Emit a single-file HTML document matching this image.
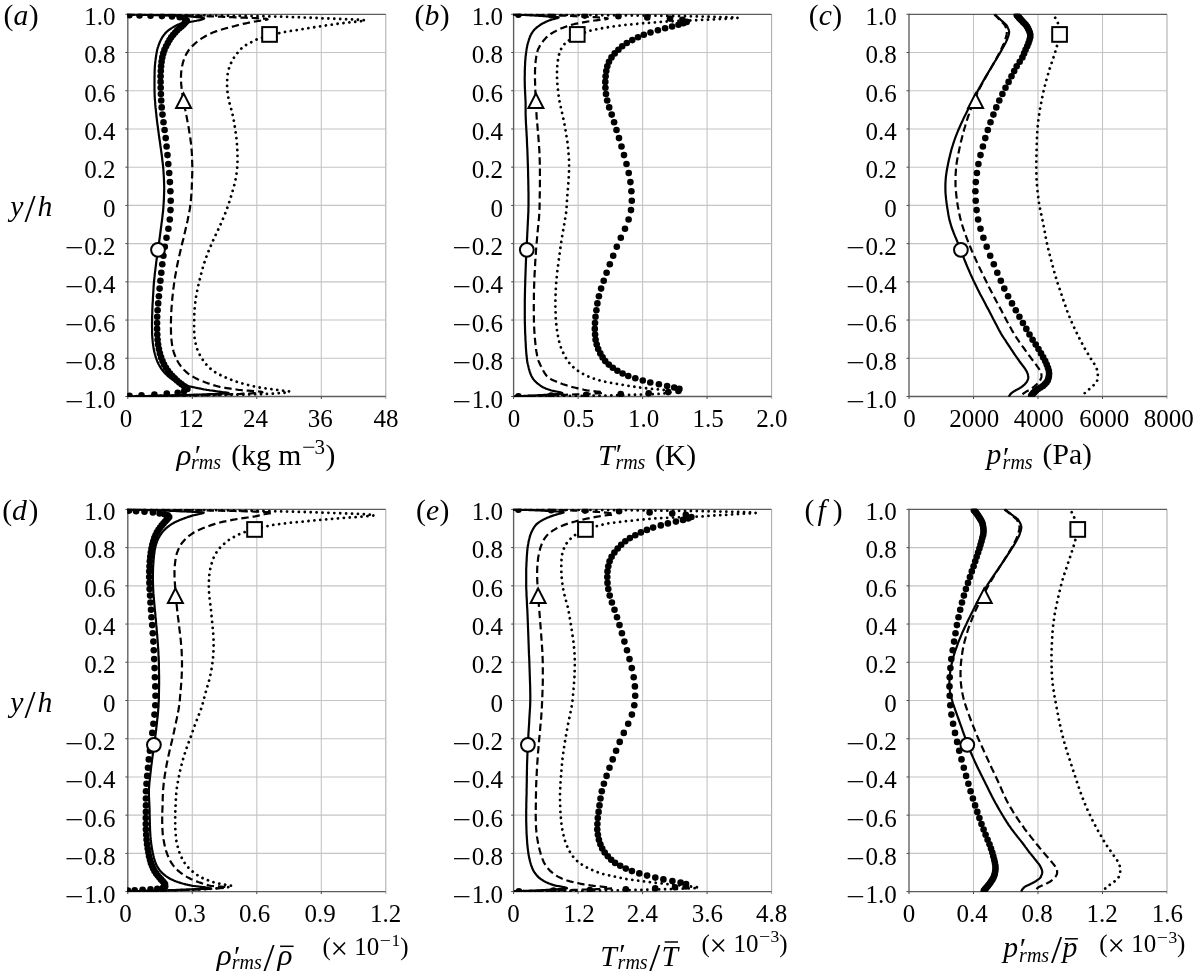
<!DOCTYPE html>
<html lang="en"><head><meta charset="utf-8"><title>Figure</title><style>
html,body{margin:0;padding:0;background:#fff;}
body{width:1194px;height:979px;overflow:hidden;font-family:"Liberation Serif","Times New Roman",serif;}
svg{display:block;font-family:"Liberation Serif","Times New Roman",serif;}
text{white-space:pre}
.gr{stroke:#c4c4c4;stroke-width:1.1;fill:none}
.gr2{stroke:#aeaeae;stroke-width:1.1;fill:none}
.tkm{stroke:#444;stroke-width:1;fill:none}
.ax{stroke:#5c5c5c;stroke-width:1.35;fill:none}
.solid{stroke:#000;stroke-width:2.2;fill:none;stroke-linejoin:round}
.dashed{stroke:#000;stroke-width:2.2;fill:none;stroke-dasharray:7.4 3.9;stroke-linejoin:round}
.dotted{stroke:#000;stroke-width:2.8;fill:none;stroke-dasharray:0.01 5.9;stroke-linecap:round;stroke-linejoin:round}
.bd{fill:#000}
.mk{fill:#fff;stroke:#000;stroke-width:2}
.bar{stroke:#000;stroke-width:1.5}
.tk{font-size:25px;fill:#000}
.lb{font-size:29.7px;fill:#000}
.ex{font-size:25px;fill:#000}
.it{font-style:italic}
.sl{font-size:40px;fill:#000}
.sub{font-size:20px;font-style:italic;fill:#000}
.sup{font-size:21px;fill:#000}
.tm{font-size:31px;fill:#000}
.sup2{font-size:17.5px;fill:#000}
</style></head><body>
<svg width="1194" height="979" viewBox="0 0 1194 979">
<defs>
<clipPath id="ca"><rect x="127.2" y="13.8" width="259.2" height="383.3"/></clipPath>
<clipPath id="cb"><rect x="513.0" y="13.8" width="259.2" height="383.3"/></clipPath>
<clipPath id="cc"><rect x="908.4" y="13.8" width="259.2" height="383.3"/></clipPath>
<clipPath id="cd"><rect x="127.2" y="508.8" width="259.2" height="383.3"/></clipPath>
<clipPath id="ce"><rect x="513.0" y="508.8" width="259.2" height="383.3"/></clipPath>
<clipPath id="cf"><rect x="908.4" y="508.8" width="259.2" height="383.3"/></clipPath>
</defs>
<g><line x1="192.30" y1="14.3" x2="192.30" y2="396.5" class="gr"/><line x1="256.80" y1="14.3" x2="256.80" y2="396.5" class="gr"/><line x1="321.30" y1="14.3" x2="321.30" y2="396.5" class="gr"/><line x1="385.80" y1="14.3" x2="385.80" y2="398.8" class="gr2"/><line x1="127.8" y1="52.52" x2="385.8" y2="52.52" class="gr"/><line x1="127.8" y1="90.74" x2="385.8" y2="90.74" class="gr"/><line x1="127.8" y1="128.96" x2="385.8" y2="128.96" class="gr"/><line x1="127.8" y1="167.18" x2="385.8" y2="167.18" class="gr"/><line x1="127.8" y1="205.40" x2="385.8" y2="205.40" class="gr"/><line x1="127.8" y1="243.62" x2="385.8" y2="243.62" class="gr"/><line x1="127.8" y1="281.84" x2="385.8" y2="281.84" class="gr"/><line x1="127.8" y1="320.06" x2="385.8" y2="320.06" class="gr"/><line x1="127.8" y1="358.28" x2="385.8" y2="358.28" class="gr"/><line x1="127.80" y1="396.5" x2="127.80" y2="399.0" class="tkm"/><line x1="192.30" y1="396.5" x2="192.30" y2="399.0" class="tkm"/><line x1="256.80" y1="396.5" x2="256.80" y2="399.0" class="tkm"/><line x1="321.30" y1="396.5" x2="321.30" y2="399.0" class="tkm"/><line x1="125.4" y1="14.30" x2="127.8" y2="14.30" class="tkm"/><line x1="125.4" y1="52.52" x2="127.8" y2="52.52" class="tkm"/><line x1="125.4" y1="90.74" x2="127.8" y2="90.74" class="tkm"/><line x1="125.4" y1="128.96" x2="127.8" y2="128.96" class="tkm"/><line x1="125.4" y1="167.18" x2="127.8" y2="167.18" class="tkm"/><line x1="125.4" y1="205.40" x2="127.8" y2="205.40" class="tkm"/><line x1="125.4" y1="243.62" x2="127.8" y2="243.62" class="tkm"/><line x1="125.4" y1="281.84" x2="127.8" y2="281.84" class="tkm"/><line x1="125.4" y1="320.06" x2="127.8" y2="320.06" class="tkm"/><line x1="125.4" y1="358.28" x2="127.8" y2="358.28" class="tkm"/><line x1="125.4" y1="396.50" x2="127.8" y2="396.50" class="tkm"/><line x1="127.80" y1="13.7" x2="127.80" y2="397.1" class="ax"/><line x1="127.8" y1="14.30" x2="385.8" y2="14.30" class="ax"/><line x1="127.8" y1="396.50" x2="385.8" y2="396.50" class="ax"/></g>
<g clip-path="url(#ca)"><path d="M127.5 14.5L127.8 14.5L131.4 14.5L135.1 14.6L139.0 14.6L142.9 14.7L147.0 14.7L151.2 14.8L155.5 14.8L159.9 14.9L164.4 15.0L169.1 15.0L174.0 15.1L178.9 15.1L184.0 15.2L189.3 15.3L194.6 15.3L200.2 15.4L206.1 15.5L212.5 15.6L219.2 15.6L226.1 15.7L233.3 15.8L240.4 15.9L247.4 16.0L254.1 16.1L260.2 16.2L265.4 16.3L269.9 16.4L274.1 16.5L278.2 16.6L282.1 16.7L285.9 16.8L289.6 16.9L293.2 17.1L296.7 17.2L300.0 17.3L303.3 17.5L306.6 17.6L309.9 17.7L313.2 17.9L316.6 18.0L320.2 18.2L324.0 18.4L328.2 18.5L332.8 18.7L337.7 18.9L342.8 19.1L347.9 19.3L352.8 19.5L357.3 19.7L361.1 19.9L363.9 20.1L365.3 20.3L365.2 20.5L364.2 20.8L362.6 21.0L360.4 21.3L357.7 21.5L354.7 21.8L351.6 22.1L348.6 22.4L346.0 22.7L343.6 23.0L341.3 23.3L338.9 23.6L336.4 23.9L334.0 24.3L331.5 24.6L329.0 25.0L326.4 25.4L323.8 25.8L321.2 26.2L318.5 26.6L315.9 27.0L313.2 27.4L310.4 27.9L307.6 28.3L304.6 28.8L301.6 29.3L298.4 29.8L294.9 30.3L291.3 30.9L287.8 31.4L284.4 32.0L281.5 32.6L278.7 33.2L276.0 33.8L273.3 34.5L270.6 35.1L268.0 35.8L265.5 36.5L263.1 37.2L260.8 37.9L258.6 38.7L256.6 39.5L254.8 40.3L253.2 41.1L251.6 42.0L250.0 42.8L248.3 43.7L246.7 44.6L245.2 45.6L243.8 46.6L242.5 47.5L241.3 48.6L240.2 49.6L239.3 50.7L238.4 51.8L237.5 52.9L236.5 54.1L235.6 55.3L234.7 56.5L233.8 57.8L233.1 59.1L232.3 60.4L231.6 61.7L231.0 63.1L230.4 64.5L229.8 66.0L229.3 67.5L228.8 69.0L228.4 70.6L228.0 72.1L227.7 73.8L227.5 75.4L227.3 77.1L227.2 78.9L227.2 80.6L227.1 82.5L227.1 84.3L227.1 86.2L227.2 88.1L227.4 90.1L227.5 92.1L227.8 94.1L228.1 96.2L228.5 98.3L228.9 100.5L229.4 102.7L230.0 104.9L230.6 107.2L231.3 109.5L231.9 111.8L232.5 114.2L233.0 116.6L233.5 119.1L234.0 121.6L234.4 124.1L234.8 126.7L235.2 129.3L235.6 131.9L235.9 134.6L236.3 137.2L236.6 140.0L236.8 142.7L237.1 145.5L237.2 148.3L237.4 151.2L237.5 154.0L237.5 156.9L237.5 159.8L237.5 162.8L237.4 165.7L237.1 168.7L236.8 171.7L236.4 174.7L235.9 177.7L235.3 180.8L234.6 183.8L233.8 186.9L232.9 189.9L232.1 193.0L231.1 196.1L230.2 199.2L229.2 202.3L228.2 205.4L227.1 208.5L225.9 211.6L224.7 214.7L223.4 217.8L222.1 220.9L220.8 223.9L219.4 227.0L218.0 230.0L216.5 233.1L215.1 236.1L213.7 239.1L212.4 242.1L211.1 245.1L209.8 248.0L208.6 251.0L207.4 253.9L206.4 256.8L205.3 259.6L204.4 262.5L203.5 265.3L202.7 268.1L201.9 270.8L201.2 273.6L200.5 276.2L199.9 278.9L199.2 281.5L198.6 284.1L198.1 286.7L197.5 289.2L197.0 291.7L196.5 294.2L196.1 296.6L195.8 299.0L195.4 301.3L195.2 303.6L194.9 305.9L194.7 308.1L194.6 310.3L194.4 312.5L194.3 314.6L194.3 316.7L194.2 318.7L194.2 320.7L194.1 322.7L194.1 324.6L194.1 326.5L194.2 328.3L194.2 330.2L194.2 331.9L194.3 333.7L194.4 335.4L194.5 337.0L194.7 338.7L195.0 340.2L195.3 341.8L195.6 343.3L195.9 344.8L196.2 346.3L196.7 347.7L197.2 349.1L197.7 350.4L198.3 351.7L198.9 353.0L199.5 354.3L200.1 355.5L200.8 356.7L201.5 357.9L202.2 359.0L202.9 360.1L203.7 361.2L204.5 362.2L205.3 363.3L206.1 364.2L206.9 365.2L207.8 366.2L208.7 367.1L209.6 368.0L210.6 368.8L211.6 369.7L212.6 370.5L213.7 371.3L214.9 372.1L216.2 372.9L217.5 373.6L218.9 374.3L220.3 375.0L221.7 375.7L223.1 376.3L224.6 377.0L226.0 377.6L227.4 378.2L228.9 378.8L230.3 379.4L231.7 379.9L233.2 380.5L234.6 381.0L236.1 381.5L237.6 382.0L239.1 382.5L240.6 382.9L242.1 383.4L243.6 383.8L245.2 384.2L246.7 384.6L248.2 385.0L249.8 385.4L251.4 385.8L252.9 386.2L254.5 386.5L256.0 386.9L257.8 387.2L259.7 387.5L261.8 387.8L263.9 388.1L266.0 388.4L268.1 388.7L270.2 389.0L272.1 389.3L273.9 389.5L275.8 389.8L278.0 390.0L280.2 390.3L282.3 390.5L284.3 390.7L286.0 390.9L287.5 391.1L288.6 391.3L289.3 391.5L289.6 391.7L289.5 391.9L289.0 392.1L288.1 392.3L287.0 392.4L285.6 392.6L284.1 392.8L282.3 392.9L280.5 393.1L278.5 393.2L276.5 393.3L274.3 393.5L272.2 393.6L270.0 393.7L267.8 393.9L265.6 394.0L263.3 394.1L260.2 394.2L256.6 394.3L252.5 394.4L248.1 394.5L243.4 394.6L238.5 394.7L233.5 394.8L228.4 394.9L223.3 395.0L218.3 395.1L213.4 395.2L208.5 395.2L203.9 395.3L199.3 395.4L194.8 395.5L190.2 395.5L185.5 395.6L180.7 395.7L176.0 395.7L171.3 395.8L166.5 395.8L161.9 395.9L157.2 396.0L152.6 396.0L148.1 396.1L143.7 396.1L139.3 396.2L135.1 396.2L131.2 396.3L128.0 396.3" class="dotted"/><path d="M127.5 14.5L127.7 14.5L130.5 14.5L133.4 14.6L136.4 14.6L139.4 14.7L142.5 14.7L145.7 14.8L148.9 14.8L152.2 14.9L155.4 15.0L158.8 15.0L162.1 15.1L165.5 15.1L168.9 15.2L172.3 15.3L175.6 15.3L179.0 15.4L182.2 15.5L185.4 15.6L188.5 15.6L191.5 15.7L194.5 15.8L197.5 15.9L200.5 16.0L203.5 16.1L206.5 16.2L209.4 16.3L212.4 16.4L215.3 16.5L218.2 16.6L221.1 16.7L224.0 16.8L226.8 16.9L229.7 17.1L232.5 17.2L235.4 17.3L238.5 17.5L241.8 17.6L245.2 17.7L248.7 17.9L252.2 18.0L255.6 18.2L258.8 18.4L261.7 18.5L264.2 18.7L266.2 18.9L267.3 19.1L267.6 19.3L267.3 19.5L266.6 19.7L265.6 19.9L264.4 20.1L262.9 20.3L261.2 20.5L259.5 20.8L257.7 21.0L256.1 21.3L254.7 21.5L253.3 21.8L251.9 22.1L250.4 22.4L248.9 22.7L247.4 23.0L245.9 23.3L244.4 23.6L242.9 23.9L241.5 24.3L240.0 24.6L238.5 25.0L237.1 25.4L235.6 25.8L234.1 26.2L232.5 26.6L230.9 27.0L229.3 27.4L227.6 27.9L226.0 28.3L224.3 28.8L222.6 29.3L221.0 29.8L219.3 30.3L217.6 30.9L215.9 31.4L214.3 32.0L212.8 32.6L211.3 33.2L210.0 33.8L208.6 34.5L207.4 35.1L206.1 35.8L204.9 36.5L203.7 37.2L202.5 37.9L201.3 38.7L200.1 39.5L199.0 40.3L197.9 41.1L196.8 42.0L195.8 42.8L194.8 43.7L193.8 44.6L192.8 45.6L191.9 46.6L191.0 47.5L190.1 48.6L189.2 49.6L188.4 50.7L187.7 51.8L187.0 52.9L186.3 54.1L185.7 55.3L185.1 56.5L184.6 57.8L184.1 59.1L183.6 60.4L183.2 61.7L182.8 63.1L182.5 64.5L182.1 66.0L181.9 67.5L181.6 69.0L181.4 70.6L181.2 72.1L181.1 73.8L181.0 75.4L181.0 77.1L181.0 78.9L181.0 80.6L181.1 82.5L181.2 84.3L181.4 86.2L181.6 88.1L181.8 90.1L182.1 92.1L182.4 94.1L182.7 96.2L183.1 98.3L183.5 100.5L183.9 102.7L184.3 104.9L184.8 107.2L185.2 109.5L185.7 111.8L186.1 114.2L186.6 116.6L187.1 119.1L187.5 121.6L188.0 124.1L188.5 126.7L188.9 129.3L189.3 131.9L189.8 134.6L190.2 137.2L190.5 140.0L190.9 142.7L191.2 145.5L191.5 148.3L191.7 151.2L191.9 154.0L192.0 156.9L192.1 159.8L192.2 162.8L192.3 165.7L192.3 168.7L192.3 171.7L192.2 174.7L192.1 177.7L192.1 180.8L191.9 183.8L191.8 186.9L191.7 189.9L191.5 193.0L191.2 196.1L191.0 199.2L190.7 202.3L190.3 205.4L189.9 208.5L189.3 211.6L188.8 214.7L188.1 217.8L187.5 220.9L186.8 223.9L186.1 227.0L185.4 230.0L184.7 233.1L184.0 236.1L183.3 239.1L182.5 242.1L181.8 245.1L181.1 248.0L180.4 251.0L179.7 253.9L179.0 256.8L178.4 259.6L177.8 262.5L177.2 265.3L176.7 268.1L176.2 270.8L175.7 273.6L175.2 276.2L174.8 278.9L174.4 281.5L174.0 284.1L173.7 286.7L173.3 289.2L173.0 291.7L172.8 294.2L172.5 296.6L172.3 299.0L172.0 301.3L171.8 303.6L171.7 305.9L171.5 308.1L171.4 310.3L171.2 312.5L171.1 314.6L171.1 316.7L171.0 318.7L171.0 320.7L170.9 322.7L170.9 324.6L170.9 326.5L170.9 328.3L171.0 330.2L171.0 331.9L171.0 333.7L171.1 335.4L171.2 337.0L171.3 338.7L171.5 340.2L171.7 341.8L171.9 343.3L172.1 344.8L172.3 346.3L172.6 347.7L172.9 349.1L173.3 350.4L173.6 351.7L174.0 353.0L174.5 354.3L174.9 355.5L175.4 356.7L175.9 357.9L176.4 359.0L177.0 360.1L177.6 361.2L178.2 362.2L178.8 363.3L179.4 364.2L180.1 365.2L180.8 366.2L181.5 367.1L182.3 368.0L183.0 368.8L183.8 369.7L184.7 370.5L185.5 371.3L186.4 372.1L187.3 372.9L188.2 373.6L189.2 374.3L190.3 375.0L191.3 375.7L192.4 376.3L193.5 377.0L194.6 377.6L195.7 378.2L196.9 378.8L198.1 379.4L199.3 379.9L200.6 380.5L201.9 381.0L203.2 381.5L204.4 382.0L205.7 382.5L207.0 382.9L208.2 383.4L209.4 383.8L210.6 384.2L211.8 384.6L213.0 385.0L214.3 385.4L215.6 385.8L217.0 386.2L218.4 386.5L219.8 386.9L221.4 387.2L223.1 387.5L224.9 387.8L226.7 388.1L228.6 388.4L230.6 388.7L232.5 389.0L234.5 389.3L236.5 389.5L238.4 389.8L240.4 390.0L242.8 390.3L245.5 390.5L248.4 390.7L251.3 390.9L254.0 391.1L256.5 391.3L258.7 391.5L260.4 391.7L261.6 391.9L262.3 392.1L262.4 392.3L262.0 392.4L261.1 392.6L259.8 392.8L258.1 392.9L256.1 393.1L253.9 393.2L251.5 393.3L248.9 393.5L246.2 393.6L243.4 393.7L240.5 393.9L237.6 394.0L234.6 394.1L231.7 394.2L228.7 394.3L225.7 394.4L222.8 394.5L219.9 394.6L217.0 394.7L214.2 394.8L211.5 394.9L208.7 395.0L205.5 395.1L202.0 395.2L198.3 395.2L194.4 395.3L190.4 395.4L186.2 395.5L182.0 395.5L177.8 395.6L173.5 395.7L169.2 395.7L165.0 395.8L160.8 395.8L156.7 395.9L152.6 396.0L148.7 396.0L144.8 396.1L141.0 396.1L137.3 396.2L133.8 396.2L130.6 396.3L127.9 396.3" class="dashed"/><path d="M127.5 14.5L127.7 14.5L129.9 14.5L132.1 14.6L134.4 14.6L136.8 14.7L139.1 14.7L141.5 14.8L143.9 14.8L146.4 14.9L148.8 15.0L151.3 15.0L153.7 15.1L156.2 15.1L158.6 15.2L161.0 15.3L163.3 15.3L165.6 15.4L168.0 15.5L170.3 15.6L172.7 15.6L175.1 15.7L177.4 15.8L179.7 15.9L181.9 16.0L184.0 16.1L185.8 16.2L187.4 16.3L188.7 16.4L190.1 16.5L191.4 16.6L192.8 16.7L194.1 16.8L195.4 16.9L196.7 17.1L198.0 17.2L199.2 17.3L200.3 17.5L201.4 17.6L202.3 17.7L203.1 17.9L203.6 18.0L204.0 18.2L204.1 18.4L204.1 18.5L203.9 18.7L203.6 18.9L203.2 19.1L202.7 19.3L202.1 19.5L201.3 19.7L200.5 19.9L199.6 20.1L198.5 20.3L197.4 20.5L196.2 20.8L194.9 21.0L193.6 21.3L192.2 21.5L190.9 21.8L189.5 22.1L187.8 22.4L185.9 22.7L183.9 23.0L182.2 23.3L180.9 23.6L179.8 23.9L178.9 24.3L178.0 24.6L177.1 25.0L176.3 25.4L175.6 25.8L174.8 26.2L174.1 26.6L173.5 27.0L172.8 27.4L172.0 27.9L171.3 28.3L170.6 28.8L169.9 29.3L169.1 29.8L168.4 30.3L167.8 30.9L167.1 31.4L166.5 32.0L165.9 32.6L165.3 33.2L164.8 33.8L164.3 34.5L163.8 35.1L163.3 35.8L162.8 36.5L162.3 37.2L161.9 37.9L161.5 38.7L161.1 39.5L160.7 40.3L160.3 41.1L159.9 42.0L159.6 42.8L159.2 43.7L158.8 44.6L158.5 45.6L158.2 46.6L157.8 47.5L157.5 48.6L157.2 49.6L157.0 50.7L156.8 51.8L156.6 52.9L156.4 54.1L156.2 55.3L156.0 56.5L155.8 57.8L155.6 59.1L155.5 60.4L155.3 61.7L155.2 63.1L155.0 64.5L154.9 66.0L154.8 67.5L154.7 69.0L154.7 70.6L154.6 72.1L154.6 73.8L154.6 75.4L154.5 77.1L154.5 78.9L154.5 80.6L154.5 82.5L154.5 84.3L154.5 86.2L154.5 88.1L154.5 90.1L154.6 92.1L154.6 94.1L154.7 96.2L154.8 98.3L155.0 100.5L155.2 102.7L155.3 104.9L155.5 107.2L155.8 109.5L156.0 111.8L156.3 114.2L156.5 116.6L156.8 119.1L157.1 121.6L157.4 124.1L157.8 126.7L158.1 129.3L158.5 131.9L158.8 134.6L159.2 137.2L159.6 140.0L160.0 142.7L160.4 145.5L160.8 148.3L161.2 151.2L161.6 154.0L162.0 156.9L162.3 159.8L162.7 162.8L163.0 165.7L163.3 168.7L163.5 171.7L163.7 174.7L163.9 177.7L164.0 180.8L164.1 183.8L164.2 186.9L164.2 189.9L164.1 193.0L164.0 196.1L163.9 199.2L163.7 202.3L163.5 205.4L163.3 208.5L163.0 211.6L162.6 214.7L162.3 217.8L161.9 220.9L161.5 223.9L161.1 227.0L160.7 230.0L160.3 233.1L159.9 236.1L159.5 239.1L159.1 242.1L158.7 245.1L158.3 248.0L157.8 251.0L157.4 253.9L157.0 256.8L156.6 259.6L156.2 262.5L155.9 265.3L155.5 268.1L155.2 270.8L154.8 273.6L154.6 276.2L154.3 278.9L154.0 281.5L153.8 284.1L153.6 286.7L153.5 289.2L153.3 291.7L153.2 294.2L153.0 296.6L152.9 299.0L152.8 301.3L152.6 303.6L152.5 305.9L152.4 308.1L152.3 310.3L152.3 312.5L152.2 314.6L152.1 316.7L152.1 318.7L152.1 320.7L152.0 322.7L152.0 324.6L152.0 326.5L152.1 328.3L152.1 330.2L152.1 331.9L152.1 333.7L152.2 335.4L152.3 337.0L152.4 338.7L152.6 340.2L152.7 341.8L152.9 343.3L153.1 344.8L153.3 346.3L153.5 347.7L153.7 349.1L154.0 350.4L154.3 351.7L154.6 353.0L154.9 354.3L155.3 355.5L155.6 356.7L156.0 357.9L156.4 359.0L156.8 360.1L157.2 361.2L157.7 362.2L158.1 363.3L158.6 364.2L159.2 365.2L159.7 366.2L160.3 367.1L160.8 368.0L161.4 368.8L162.0 369.7L162.6 370.5L163.3 371.3L164.0 372.1L164.6 372.9L165.4 373.6L166.1 374.3L166.8 375.0L167.5 375.7L168.2 376.3L169.0 377.0L169.7 377.6L170.5 378.2L171.3 378.8L172.1 379.4L172.9 379.9L173.8 380.5L174.7 381.0L175.6 381.5L176.7 382.0L177.8 382.5L178.9 382.9L180.1 383.4L181.2 383.8L182.4 384.2L183.7 384.6L185.0 385.0L186.4 385.4L187.8 385.8L189.2 386.2L190.5 386.5L191.9 386.9L193.3 387.2L194.7 387.5L196.2 387.8L197.6 388.1L199.1 388.4L200.6 388.7L202.1 389.0L203.7 389.3L205.2 389.5L206.8 389.8L208.3 390.0L209.8 390.3L211.2 390.5L212.6 390.7L214.0 390.9L215.4 391.1L216.8 391.3L218.1 391.5L219.4 391.7L220.7 391.9L222.0 392.1L223.5 392.3L225.2 392.4L226.7 392.6L227.9 392.8L228.5 392.9L228.4 393.1L227.6 393.2L226.3 393.3L224.6 393.5L222.5 393.6L220.1 393.7L217.5 393.9L214.7 394.0L211.9 394.1L209.0 394.2L206.1 394.3L203.2 394.4L200.4 394.5L197.6 394.6L194.9 394.7L192.3 394.8L189.8 394.9L187.3 395.0L184.6 395.1L181.9 395.2L179.1 395.2L176.3 395.3L173.4 395.4L170.5 395.5L167.7 395.5L164.8 395.6L161.9 395.7L159.1 395.7L156.3 395.8L153.5 395.8L150.8 395.9L148.1 396.0L145.5 396.0L142.9 396.1L140.3 396.1L137.9 396.2L135.4 396.2L133.1 396.3L130.8 396.3L129.4 396.3L128.7 396.4" class="solid"/><g class="bd"><circle cx="187.4" cy="388.9" r="3.3"/><circle cx="185.8" cy="387.5" r="3.3"/><circle cx="183.9" cy="386.0" r="3.3"/><circle cx="181.6" cy="384.3" r="3.3"/><circle cx="179.3" cy="382.5" r="3.3"/><circle cx="176.9" cy="380.5" r="3.3"/><circle cx="174.7" cy="378.3" r="3.3"/><circle cx="172.4" cy="376.0" r="3.3"/><circle cx="170.1" cy="373.5" r="3.3"/><circle cx="167.9" cy="370.7" r="3.3"/><circle cx="165.9" cy="367.8" r="3.3"/><circle cx="164.1" cy="364.6" r="3.3"/><circle cx="162.5" cy="361.1" r="3.3"/><circle cx="161.1" cy="357.4" r="3.3"/><circle cx="159.9" cy="353.4" r="3.3"/><circle cx="158.9" cy="349.1" r="3.3"/><circle cx="158.1" cy="344.6" r="3.3"/><circle cx="157.6" cy="339.7" r="3.3"/><circle cx="157.3" cy="334.5" r="3.3"/><circle cx="157.1" cy="328.9" r="3.3"/><circle cx="157.1" cy="323.0" r="3.3"/><circle cx="157.2" cy="316.8" r="3.3"/><circle cx="157.6" cy="310.3" r="3.3"/><circle cx="158.2" cy="303.4" r="3.3"/><circle cx="158.9" cy="296.2" r="3.3"/><circle cx="159.6" cy="288.6" r="3.3"/><circle cx="160.4" cy="280.8" r="3.3"/><circle cx="161.3" cy="272.7" r="3.3"/><circle cx="162.3" cy="264.3" r="3.3"/><circle cx="163.4" cy="255.7" r="3.3"/><circle cx="164.8" cy="246.8" r="3.3"/><circle cx="166.5" cy="237.8" r="3.3"/><circle cx="168.4" cy="228.7" r="3.3"/><circle cx="169.8" cy="219.5" r="3.3"/><circle cx="170.5" cy="210.1" r="3.3"/><circle cx="170.7" cy="200.7" r="3.3"/><circle cx="170.4" cy="191.3" r="3.3"/><circle cx="169.9" cy="182.1" r="3.3"/><circle cx="169.2" cy="173.0" r="3.3"/><circle cx="168.3" cy="164.0" r="3.3"/><circle cx="167.5" cy="155.1" r="3.3"/><circle cx="166.6" cy="146.5" r="3.3"/><circle cx="165.7" cy="138.1" r="3.3"/><circle cx="164.6" cy="130.0" r="3.3"/><circle cx="163.5" cy="122.2" r="3.3"/><circle cx="162.5" cy="114.6" r="3.3"/><circle cx="161.7" cy="107.4" r="3.3"/><circle cx="161.2" cy="100.5" r="3.3"/><circle cx="160.9" cy="94.0" r="3.3"/><circle cx="160.7" cy="87.8" r="3.3"/><circle cx="160.6" cy="81.9" r="3.3"/><circle cx="160.6" cy="76.3" r="3.3"/><circle cx="160.8" cy="71.1" r="3.3"/><circle cx="161.1" cy="66.2" r="3.3"/><circle cx="161.6" cy="61.7" r="3.3"/><circle cx="162.3" cy="57.4" r="3.3"/><circle cx="163.3" cy="53.4" r="3.3"/><circle cx="164.5" cy="49.7" r="3.3"/><circle cx="166.1" cy="46.2" r="3.3"/><circle cx="167.8" cy="43.0" r="3.3"/><circle cx="169.5" cy="40.1" r="3.3"/><circle cx="171.2" cy="37.3" r="3.3"/><circle cx="173.2" cy="34.8" r="3.3"/><circle cx="175.2" cy="32.5" r="3.3"/><circle cx="177.2" cy="30.3" r="3.3"/><circle cx="179.4" cy="28.3" r="3.3"/><circle cx="181.5" cy="26.5" r="3.3"/><circle cx="183.3" cy="24.8" r="3.3"/><circle cx="184.6" cy="23.3" r="3.3"/><circle cx="185.7" cy="21.9" r="3.3"/><circle cx="186.7" cy="20.6" r="3.3"/><circle cx="177.7" cy="392.7" r="3.3"/><circle cx="166.8" cy="393.6" r="3.3"/><circle cx="154.4" cy="394.5" r="3.3"/><circle cx="141.5" cy="395.2" r="3.3"/><circle cx="129.5" cy="395.8" r="3.3"/><circle cx="184.0" cy="391.5" r="3.3"/><circle cx="129.4" cy="15.2" r="3.3"/><circle cx="139.5" cy="15.5" r="3.3"/><circle cx="150.5" cy="15.8" r="3.3"/><circle cx="161.9" cy="16.1" r="3.3"/><circle cx="172.0" cy="16.5" r="3.3"/><circle cx="179.7" cy="17.2" r="3.3"/><circle cx="184.6" cy="18.3" r="3.3"/></g></g>
<g><circle cx="158.0" cy="249.8" r="6.9" class="mk"/><path d="M183.6 93.4 L191.1 108.0 L176.1 108.0 Z" class="mk"/><rect x="262.2" y="27.1" width="14.7" height="14.7" class="mk"/></g>
<g><text x="115.5" y="24.9" text-anchor="end" class="tk">1.0</text><text x="115.5" y="63.2" text-anchor="end" class="tk">0.8</text><text x="115.5" y="101.5" text-anchor="end" class="tk">0.6</text><text x="115.5" y="139.9" text-anchor="end" class="tk">0.4</text><text x="115.5" y="178.2" text-anchor="end" class="tk">0.2</text><text x="115.5" y="216.5" text-anchor="end" class="tk">0</text><text x="115.5" y="254.8" text-anchor="end" class="tk">0.2</text><text x="64.8" y="256.4" class="tk" textLength="18.8" lengthAdjust="spacingAndGlyphs">−</text><text x="115.5" y="293.1" text-anchor="end" class="tk">0.4</text><text x="64.8" y="294.7" class="tk" textLength="18.8" lengthAdjust="spacingAndGlyphs">−</text><text x="115.5" y="331.5" text-anchor="end" class="tk">0.6</text><text x="64.8" y="333.1" class="tk" textLength="18.8" lengthAdjust="spacingAndGlyphs">−</text><text x="115.5" y="369.8" text-anchor="end" class="tk">0.8</text><text x="64.8" y="371.4" class="tk" textLength="18.8" lengthAdjust="spacingAndGlyphs">−</text><text x="115.5" y="408.1" text-anchor="end" class="tk">1.0</text><text x="64.8" y="409.7" class="tk" textLength="18.8" lengthAdjust="spacingAndGlyphs">−</text><text x="126.0" y="426.9" text-anchor="middle" class="tk">0</text><text x="191.1" y="426.9" text-anchor="middle" class="tk">12</text><text x="255.5" y="426.9" text-anchor="middle" class="tk">24</text><text x="320.2" y="426.9" text-anchor="middle" class="tk">36</text><text x="386.1" y="426.9" text-anchor="middle" class="tk">48</text></g>
<text x="3.6" y="24.7" class="lb">(<tspan class="it">a</tspan><tspan dx="0.4">)</tspan></text>
<g><text transform="translate(176.6 464.9) scale(1.050 1)" class="lb it">ρ</text><text x="194.8" y="465.1" class="lb">′</text><text x="191.0" y="469.3" class="sub">rms</text><text x="231.3" y="464.9" class="lb">(kg m</text><text x="302.0" y="454.4" class="sup" textLength="13.5" lengthAdjust="spacingAndGlyphs">−</text><text x="314.6" y="454.4" class="sup">3</text><text x="325.6" y="464.9" class="lb">)</text></g>
<g><line x1="578.10" y1="14.3" x2="578.10" y2="396.5" class="gr"/><line x1="642.60" y1="14.3" x2="642.60" y2="396.5" class="gr"/><line x1="707.10" y1="14.3" x2="707.10" y2="396.5" class="gr"/><line x1="771.60" y1="14.3" x2="771.60" y2="398.8" class="gr2"/><line x1="513.6" y1="52.52" x2="771.6" y2="52.52" class="gr"/><line x1="513.6" y1="90.74" x2="771.6" y2="90.74" class="gr"/><line x1="513.6" y1="128.96" x2="771.6" y2="128.96" class="gr"/><line x1="513.6" y1="167.18" x2="771.6" y2="167.18" class="gr"/><line x1="513.6" y1="205.40" x2="771.6" y2="205.40" class="gr"/><line x1="513.6" y1="243.62" x2="771.6" y2="243.62" class="gr"/><line x1="513.6" y1="281.84" x2="771.6" y2="281.84" class="gr"/><line x1="513.6" y1="320.06" x2="771.6" y2="320.06" class="gr"/><line x1="513.6" y1="358.28" x2="771.6" y2="358.28" class="gr"/><line x1="513.60" y1="396.5" x2="513.60" y2="399.0" class="tkm"/><line x1="578.10" y1="396.5" x2="578.10" y2="399.0" class="tkm"/><line x1="642.60" y1="396.5" x2="642.60" y2="399.0" class="tkm"/><line x1="707.10" y1="396.5" x2="707.10" y2="399.0" class="tkm"/><line x1="511.2" y1="14.30" x2="513.6" y2="14.30" class="tkm"/><line x1="511.2" y1="52.52" x2="513.6" y2="52.52" class="tkm"/><line x1="511.2" y1="90.74" x2="513.6" y2="90.74" class="tkm"/><line x1="511.2" y1="128.96" x2="513.6" y2="128.96" class="tkm"/><line x1="511.2" y1="167.18" x2="513.6" y2="167.18" class="tkm"/><line x1="511.2" y1="205.40" x2="513.6" y2="205.40" class="tkm"/><line x1="511.2" y1="243.62" x2="513.6" y2="243.62" class="tkm"/><line x1="511.2" y1="281.84" x2="513.6" y2="281.84" class="tkm"/><line x1="511.2" y1="320.06" x2="513.6" y2="320.06" class="tkm"/><line x1="511.2" y1="358.28" x2="513.6" y2="358.28" class="tkm"/><line x1="511.2" y1="396.50" x2="513.6" y2="396.50" class="tkm"/><line x1="513.60" y1="13.7" x2="513.60" y2="397.1" class="ax"/><line x1="513.6" y1="14.30" x2="771.6" y2="14.30" class="ax"/><line x1="513.6" y1="396.50" x2="771.6" y2="396.50" class="ax"/></g>
<g clip-path="url(#cb)"><path d="M513.6 14.5L514.2 14.5L520.0 14.5L526.1 14.6L532.2 14.6L538.5 14.7L544.8 14.7L551.4 14.8L558.0 14.8L564.7 14.9L571.6 15.0L578.5 15.0L585.5 15.1L592.6 15.1L599.9 15.2L607.4 15.3L615.2 15.3L623.2 15.4L631.2 15.5L639.2 15.6L646.9 15.6L654.3 15.7L661.1 15.8L667.2 15.9L672.9 16.0L678.5 16.1L683.9 16.2L689.1 16.3L694.1 16.4L698.8 16.5L703.3 16.6L707.5 16.7L711.5 16.8L715.6 16.9L719.9 17.1L724.2 17.2L728.2 17.3L731.8 17.5L734.9 17.6L736.9 17.7L737.8 17.9L737.3 18.0L735.9 18.2L733.6 18.4L730.6 18.5L726.9 18.7L722.8 18.9L718.5 19.1L714.2 19.3L710.3 19.5L706.8 19.7L703.4 19.9L699.7 20.1L695.3 20.3L690.0 20.5L683.9 20.8L677.7 21.0L671.8 21.3L666.9 21.5L662.7 21.8L658.6 22.1L654.5 22.4L650.2 22.7L646.1 23.0L642.4 23.3L639.0 23.6L635.8 23.9L632.3 24.3L628.5 24.6L624.5 25.0L620.9 25.4L617.8 25.8L614.8 26.2L612.1 26.6L609.4 27.0L606.9 27.4L604.3 27.9L601.7 28.3L599.1 28.8L596.6 29.3L594.2 29.8L591.9 30.3L589.7 30.9L587.8 31.4L586.1 32.0L584.5 32.6L582.9 33.2L581.3 33.8L579.8 34.5L578.3 35.1L576.8 35.8L575.4 36.5L574.0 37.2L572.7 37.9L571.4 38.7L570.2 39.5L569.0 40.3L567.9 41.1L566.8 42.0L565.8 42.8L564.8 43.7L564.0 44.6L563.2 45.6L562.5 46.6L561.9 47.5L561.3 48.6L560.8 49.6L560.3 50.7L559.9 51.8L559.5 52.9L559.2 54.1L558.8 55.3L558.6 56.5L558.3 57.8L558.1 59.1L557.9 60.4L557.7 61.7L557.5 63.1L557.4 64.5L557.3 66.0L557.2 67.5L557.1 69.0L557.1 70.6L557.0 72.1L557.0 73.8L557.0 75.4L557.0 77.1L557.1 78.9L557.2 80.6L557.3 82.5L557.4 84.3L557.6 86.2L557.8 88.1L558.0 90.1L558.2 92.1L558.4 94.1L558.7 96.2L559.0 98.3L559.4 100.5L559.8 102.7L560.3 104.9L560.8 107.2L561.3 109.5L561.8 111.8L562.4 114.2L562.9 116.6L563.4 119.1L563.9 121.6L564.4 124.1L564.9 126.7L565.3 129.3L565.8 131.9L566.2 134.6L566.7 137.2L567.1 140.0L567.5 142.7L567.8 145.5L568.1 148.3L568.4 151.2L568.6 154.0L568.8 156.9L569.0 159.8L569.1 162.8L569.1 165.7L569.1 168.7L569.0 171.7L568.9 174.7L568.7 177.7L568.5 180.8L568.3 183.8L568.1 186.9L567.8 189.9L567.5 193.0L567.3 196.1L567.1 199.2L566.9 202.3L566.7 205.4L566.5 208.5L566.2 211.6L565.8 214.7L565.3 217.8L564.8 220.9L564.3 223.9L563.7 227.0L563.2 230.0L562.7 233.1L562.2 236.1L561.7 239.1L561.2 242.1L560.8 245.1L560.4 248.0L560.0 251.0L559.6 253.9L559.2 256.8L558.8 259.6L558.5 262.5L558.1 265.3L557.8 268.1L557.4 270.8L557.1 273.6L556.8 276.2L556.6 278.9L556.3 281.5L556.1 284.1L555.9 286.7L555.8 289.2L555.7 291.7L555.6 294.2L555.5 296.6L555.4 299.0L555.4 301.3L555.4 303.6L555.4 305.9L555.4 308.1L555.5 310.3L555.6 312.5L555.6 314.6L555.7 316.7L555.8 318.7L556.0 320.7L556.1 322.7L556.3 324.6L556.5 326.5L556.7 328.3L557.0 330.2L557.2 331.9L557.5 333.7L557.8 335.4L558.2 337.0L558.5 338.7L558.8 340.2L559.2 341.8L559.6 343.3L560.1 344.8L560.5 346.3L561.0 347.7L561.6 349.1L562.1 350.4L562.7 351.7L563.3 353.0L563.9 354.3L564.5 355.5L565.2 356.7L565.8 357.9L566.5 359.0L567.2 360.1L567.9 361.2L568.7 362.2L569.6 363.3L570.5 364.2L571.4 365.2L572.3 366.2L573.3 367.1L574.3 368.0L575.3 368.8L576.4 369.7L577.6 370.5L578.7 371.3L580.0 372.1L581.2 372.9L582.5 373.6L583.9 374.3L585.2 375.0L586.6 375.7L588.0 376.3L589.5 377.0L591.0 377.6L592.6 378.2L594.4 378.8L596.2 379.4L598.1 379.9L600.1 380.5L602.1 381.0L604.2 381.5L606.3 382.0L608.8 382.5L611.4 382.9L614.2 383.4L616.7 383.8L619.1 384.2L621.5 384.6L623.7 385.0L626.0 385.4L628.3 385.8L630.7 386.2L633.0 386.5L635.3 386.9L637.7 387.2L640.1 387.5L642.4 387.8L644.8 388.1L647.3 388.4L649.8 388.7L652.5 389.0L655.6 389.3L658.7 389.5L661.6 389.8L663.9 390.0L665.8 390.3L667.7 390.5L669.4 390.7L670.8 390.9L671.9 391.1L672.5 391.3L672.7 391.5L672.6 391.7L672.2 391.9L671.8 392.1L671.2 392.3L670.4 392.4L669.6 392.6L668.7 392.8L667.7 392.9L666.7 393.1L665.6 393.2L664.5 393.3L663.3 393.5L662.1 393.6L660.9 393.7L659.5 393.9L657.4 394.0L654.8 394.1L651.8 394.2L648.7 394.3L645.6 394.4L642.5 394.5L639.4 394.6L636.0 394.7L632.6 394.8L629.3 394.9L626.2 395.0L623.4 395.1L620.9 395.2L618.5 395.2L616.1 395.3L613.4 395.4L610.3 395.5L606.7 395.5L602.4 395.6L597.1 395.7L591.4 395.7L585.2 395.8L578.7 395.8L572.2 395.9L565.5 396.0L558.8 396.0L551.6 396.1L544.3 396.1L536.4 396.2L528.6 396.2L521.0 396.3L514.7 396.3" class="dotted"/><path d="M513.6 14.5L513.8 14.5L516.1 14.5L518.4 14.6L520.9 14.6L523.4 14.7L526.0 14.7L528.6 14.8L531.3 14.8L534.1 14.9L536.9 15.0L539.7 15.0L542.5 15.1L545.3 15.1L548.2 15.2L550.9 15.3L553.6 15.3L556.2 15.4L558.7 15.5L560.9 15.6L562.9 15.6L564.9 15.7L567.0 15.8L569.0 15.9L571.2 16.0L573.3 16.1L575.5 16.2L577.7 16.3L580.0 16.4L582.2 16.5L584.5 16.6L586.8 16.7L589.0 16.8L591.3 16.9L593.4 17.1L595.6 17.2L597.6 17.3L599.6 17.5L601.4 17.6L603.1 17.7L604.5 17.9L605.8 18.0L606.8 18.2L607.4 18.4L607.7 18.5L607.6 18.7L607.1 18.9L606.1 19.1L604.8 19.3L603.2 19.5L601.4 19.7L599.6 19.9L597.8 20.1L596.2 20.3L594.6 20.5L592.9 20.8L591.2 21.0L589.5 21.3L587.8 21.5L586.1 21.8L584.5 22.1L582.9 22.4L581.2 22.7L579.6 23.0L578.0 23.3L576.5 23.6L575.0 23.9L573.6 24.3L572.3 24.6L571.0 25.0L569.7 25.4L568.5 25.8L567.3 26.2L566.1 26.6L564.9 27.0L563.8 27.4L562.6 27.9L561.5 28.3L560.4 28.8L559.2 29.3L558.1 29.8L557.1 30.3L556.0 30.9L555.0 31.4L553.9 32.0L552.9 32.6L551.9 33.2L550.9 33.8L550.0 34.5L549.2 35.1L548.3 35.8L547.5 36.5L546.7 37.2L545.9 37.9L545.2 38.7L544.5 39.5L543.8 40.3L543.1 41.1L542.4 42.0L541.7 42.8L541.1 43.7L540.5 44.6L540.0 45.6L539.5 46.6L539.0 47.5L538.5 48.6L538.0 49.6L537.6 50.7L537.3 51.8L537.0 52.9L536.7 54.1L536.5 55.3L536.3 56.5L536.1 57.8L535.9 59.1L535.7 60.4L535.6 61.7L535.5 63.1L535.4 64.5L535.3 66.0L535.2 67.5L535.1 69.0L535.0 70.6L535.0 72.1L535.0 73.8L535.0 75.4L535.0 77.1L535.0 78.9L535.0 80.6L535.1 82.5L535.1 84.3L535.2 86.2L535.2 88.1L535.3 90.1L535.4 92.1L535.5 94.1L535.6 96.2L535.7 98.3L535.7 100.5L535.8 102.7L535.9 104.9L536.0 107.2L536.2 109.5L536.3 111.8L536.5 114.2L536.6 116.6L536.8 119.1L537.0 121.6L537.3 124.1L537.5 126.7L537.7 129.3L537.9 131.9L538.2 134.6L538.4 137.2L538.6 140.0L538.8 142.7L539.0 145.5L539.2 148.3L539.4 151.2L539.5 154.0L539.6 156.9L539.7 159.8L539.8 162.8L539.8 165.7L539.9 168.7L539.9 171.7L539.9 174.7L539.9 177.7L539.9 180.8L539.9 183.8L539.9 186.9L539.8 189.9L539.8 193.0L539.7 196.1L539.7 199.2L539.6 202.3L539.6 205.4L539.5 208.5L539.4 211.6L539.2 214.7L539.0 217.8L538.7 220.9L538.4 223.9L538.1 227.0L537.8 230.0L537.5 233.1L537.2 236.1L537.0 239.1L536.7 242.1L536.4 245.1L536.2 248.0L536.0 251.0L535.8 253.9L535.6 256.8L535.4 259.6L535.2 262.5L535.1 265.3L534.9 268.1L534.8 270.8L534.6 273.6L534.5 276.2L534.4 278.9L534.3 281.5L534.2 284.1L534.1 286.7L534.1 289.2L534.0 291.7L533.9 294.2L533.9 296.6L533.9 299.0L533.9 301.3L533.8 303.6L533.8 305.9L533.8 308.1L533.8 310.3L533.8 312.5L533.8 314.6L533.9 316.7L533.9 318.7L533.9 320.7L534.0 322.7L534.0 324.6L534.1 326.5L534.2 328.3L534.3 330.2L534.4 331.9L534.5 333.7L534.7 335.4L534.8 337.0L534.9 338.7L535.1 340.2L535.2 341.8L535.4 343.3L535.5 344.8L535.7 346.3L535.9 347.7L536.0 349.1L536.2 350.4L536.4 351.7L536.7 353.0L536.9 354.3L537.1 355.5L537.4 356.7L537.6 357.9L537.9 359.0L538.2 360.1L538.6 361.2L539.1 362.2L539.6 363.3L540.0 364.2L540.5 365.2L541.0 366.2L541.5 367.1L541.9 368.0L542.4 368.8L542.8 369.7L543.2 370.5L543.6 371.3L544.1 372.1L544.5 372.9L545.0 373.6L545.5 374.3L546.0 375.0L546.5 375.7L547.1 376.3L547.8 377.0L548.5 377.6L549.3 378.2L550.3 378.8L551.3 379.4L552.5 379.9L553.7 380.5L554.9 381.0L556.1 381.5L557.3 382.0L558.5 382.5L559.6 382.9L560.8 383.4L561.9 383.8L563.1 384.2L564.4 384.6L565.6 385.0L566.8 385.4L568.1 385.8L569.4 386.2L570.6 386.5L571.8 386.9L573.1 387.2L574.3 387.5L575.5 387.8L576.7 388.1L578.0 388.4L579.2 388.7L580.4 389.0L581.6 389.3L582.9 389.5L584.1 389.8L585.3 390.0L586.6 390.3L587.9 390.5L589.4 390.7L591.2 390.9L593.1 391.1L595.0 391.3L596.9 391.5L598.5 391.7L600.0 391.9L601.3 392.1L602.2 392.3L602.9 392.4L603.2 392.6L603.1 392.8L602.5 392.9L601.4 393.1L599.9 393.2L598.0 393.3L595.9 393.5L593.6 393.6L591.2 393.7L588.6 393.9L586.0 394.0L583.3 394.1L580.7 394.2L578.0 394.3L575.4 394.4L572.8 394.5L570.3 394.6L567.9 394.7L565.6 394.8L563.3 394.9L561.2 395.0L558.9 395.1L556.5 395.2L554.1 395.2L551.7 395.3L549.3 395.4L546.8 395.5L544.3 395.5L541.9 395.6L539.4 395.7L537.0 395.7L534.7 395.8L532.3 395.8L530.0 395.9L527.7 396.0L525.5 396.0L523.4 396.1L521.2 396.1L519.2 396.2L517.2 396.2L515.4 396.3L513.9 396.3" class="dashed"/><path d="M513.6 14.5L513.7 14.5L514.7 14.5L515.7 14.6L516.8 14.6L517.9 14.7L519.0 14.7L520.2 14.8L521.3 14.8L522.5 14.9L523.7 15.0L524.9 15.0L526.2 15.1L527.5 15.1L528.7 15.2L530.0 15.3L531.4 15.3L532.7 15.4L534.0 15.5L535.3 15.6L536.6 15.6L538.0 15.7L539.3 15.8L540.6 15.9L541.9 16.0L543.4 16.1L544.9 16.2L546.5 16.3L548.1 16.4L549.7 16.5L551.4 16.6L552.9 16.7L554.4 16.8L555.7 16.9L556.9 17.1L557.8 17.2L558.4 17.3L558.6 17.5L558.5 17.6L558.3 17.7L558.0 17.9L557.6 18.0L557.1 18.2L556.5 18.4L555.8 18.5L555.1 18.7L554.3 18.9L553.5 19.1L552.8 19.3L552.0 19.5L551.3 19.7L550.8 19.9L550.2 20.1L549.6 20.3L549.0 20.5L548.4 20.8L547.8 21.0L547.2 21.3L546.6 21.5L546.0 21.8L545.4 22.1L544.8 22.4L544.2 22.7L543.6 23.0L543.0 23.3L542.4 23.6L541.8 23.9L541.3 24.3L540.7 24.6L540.1 25.0L539.6 25.4L539.0 25.8L538.5 26.2L537.9 26.6L537.4 27.0L536.8 27.4L536.3 27.9L535.8 28.3L535.3 28.8L534.8 29.3L534.3 29.8L533.9 30.3L533.4 30.9L533.0 31.4L532.6 32.0L532.2 32.6L531.8 33.2L531.4 33.8L531.1 34.5L530.7 35.1L530.4 35.8L530.1 36.5L529.8 37.2L529.6 37.9L529.3 38.7L529.0 39.5L528.8 40.3L528.5 41.1L528.2 42.0L528.0 42.8L527.7 43.7L527.5 44.6L527.3 45.6L527.1 46.6L526.9 47.5L526.7 48.6L526.5 49.6L526.4 50.7L526.2 51.8L526.1 52.9L525.9 54.1L525.8 55.3L525.6 56.5L525.5 57.8L525.4 59.1L525.3 60.4L525.2 61.7L525.1 63.1L525.1 64.5L525.0 66.0L524.9 67.5L524.9 69.0L524.8 70.6L524.8 72.1L524.8 73.8L524.8 75.4L524.7 77.1L524.7 78.9L524.7 80.6L524.8 82.5L524.8 84.3L524.8 86.2L524.9 88.1L525.0 90.1L525.1 92.1L525.2 94.1L525.3 96.2L525.4 98.3L525.5 100.5L525.6 102.7L525.6 104.9L525.6 107.2L525.6 109.5L525.6 111.8L525.6 114.2L525.7 116.6L525.8 119.1L525.9 121.6L526.0 124.1L526.2 126.7L526.3 129.3L526.5 131.9L526.6 134.6L526.8 137.2L526.9 140.0L527.0 142.7L527.1 145.5L527.3 148.3L527.4 151.2L527.5 154.0L527.6 156.9L527.7 159.8L527.8 162.8L527.9 165.7L528.0 168.7L528.1 171.7L528.1 174.7L528.2 177.7L528.3 180.8L528.3 183.8L528.4 186.9L528.4 189.9L528.5 193.0L528.5 196.1L528.5 199.2L528.5 202.3L528.5 205.4L528.4 208.5L528.4 211.6L528.2 214.7L528.1 217.8L527.9 220.9L527.8 223.9L527.6 227.0L527.5 230.0L527.3 233.1L527.2 236.1L527.0 239.1L526.9 242.1L526.7 245.1L526.6 248.0L526.4 251.0L526.3 253.9L526.2 256.8L526.0 259.6L525.9 262.5L525.8 265.3L525.7 268.1L525.6 270.8L525.5 273.6L525.4 276.2L525.3 278.9L525.2 281.5L525.2 284.1L525.1 286.7L525.0 289.2L525.0 291.7L524.9 294.2L524.9 296.6L524.8 299.0L524.8 301.3L524.8 303.6L524.8 305.9L524.8 308.1L524.8 310.3L524.8 312.5L524.8 314.6L524.8 316.7L524.8 318.7L524.8 320.7L524.9 322.7L524.9 324.6L525.0 326.5L525.0 328.3L525.1 330.2L525.1 331.9L525.2 333.7L525.3 335.4L525.4 337.0L525.4 338.7L525.5 340.2L525.6 341.8L525.7 343.3L525.8 344.8L525.8 346.3L525.9 347.7L526.0 349.1L526.1 350.4L526.2 351.7L526.3 353.0L526.4 354.3L526.5 355.5L526.7 356.7L526.8 357.9L526.9 359.0L527.1 360.1L527.2 361.2L527.4 362.2L527.6 363.3L527.8 364.2L528.1 365.2L528.3 366.2L528.5 367.1L528.7 368.0L528.9 368.8L529.2 369.7L529.4 370.5L529.6 371.3L529.9 372.1L530.2 372.9L530.4 373.6L530.7 374.3L531.0 375.0L531.3 375.7L531.6 376.3L532.0 377.0L532.3 377.6L532.7 378.2L533.1 378.8L533.5 379.4L533.9 379.9L534.4 380.5L534.9 381.0L535.4 381.5L535.9 382.0L536.4 382.5L536.9 382.9L537.4 383.4L538.0 383.8L538.5 384.2L539.1 384.6L539.6 385.0L540.1 385.4L540.7 385.8L541.2 386.2L541.8 386.5L542.3 386.9L542.9 387.2L543.5 387.5L544.2 387.8L544.9 388.1L545.6 388.4L546.3 388.7L547.1 389.0L547.8 389.3L548.6 389.5L549.3 389.8L550.1 390.0L550.8 390.3L551.5 390.5L552.3 390.7L553.2 390.9L554.2 391.1L555.2 391.3L556.3 391.5L557.2 391.7L558.2 391.9L559.1 392.1L559.8 392.3L560.5 392.4L561.1 392.6L561.6 392.8L562.0 392.9L562.3 393.1L562.5 393.2L562.5 393.3L562.3 393.5L561.8 393.6L560.9 393.7L559.8 393.9L558.6 394.0L557.2 394.1L555.6 394.2L554.1 394.3L552.4 394.4L550.8 394.5L549.1 394.6L547.5 394.7L545.9 394.8L544.3 394.9L542.8 395.0L541.4 395.1L540.0 395.2L538.6 395.2L537.3 395.3L535.8 395.4L534.3 395.5L532.9 395.5L531.4 395.6L529.9 395.7L528.4 395.7L526.9 395.8L525.4 395.8L524.0 395.9L522.6 396.0L521.2 396.0L519.8 396.1L518.5 396.1L517.2 396.2L515.9 396.2L514.7 396.3L513.8 396.3" class="solid"/><g class="bd"><circle cx="679.4" cy="388.9" r="3.3"/><circle cx="674.2" cy="387.5" r="3.3"/><circle cx="667.1" cy="386.0" r="3.3"/><circle cx="658.9" cy="384.3" r="3.3"/><circle cx="650.3" cy="382.5" r="3.3"/><circle cx="642.8" cy="380.5" r="3.3"/><circle cx="635.3" cy="378.3" r="3.3"/><circle cx="628.3" cy="376.0" r="3.3"/><circle cx="622.6" cy="373.5" r="3.3"/><circle cx="617.4" cy="370.7" r="3.3"/><circle cx="612.8" cy="367.8" r="3.3"/><circle cx="608.8" cy="364.6" r="3.3"/><circle cx="605.2" cy="361.1" r="3.3"/><circle cx="602.6" cy="357.4" r="3.3"/><circle cx="600.3" cy="353.4" r="3.3"/><circle cx="598.2" cy="349.1" r="3.3"/><circle cx="596.7" cy="344.6" r="3.3"/><circle cx="595.6" cy="339.7" r="3.3"/><circle cx="595.1" cy="334.5" r="3.3"/><circle cx="594.8" cy="328.9" r="3.3"/><circle cx="595.0" cy="323.0" r="3.3"/><circle cx="595.5" cy="316.8" r="3.3"/><circle cx="596.4" cy="310.3" r="3.3"/><circle cx="597.4" cy="303.4" r="3.3"/><circle cx="598.9" cy="296.2" r="3.3"/><circle cx="601.1" cy="288.6" r="3.3"/><circle cx="603.7" cy="280.8" r="3.3"/><circle cx="606.6" cy="272.7" r="3.3"/><circle cx="609.8" cy="264.3" r="3.3"/><circle cx="613.2" cy="255.7" r="3.3"/><circle cx="616.8" cy="246.8" r="3.3"/><circle cx="620.8" cy="237.8" r="3.3"/><circle cx="625.0" cy="228.7" r="3.3"/><circle cx="628.6" cy="219.5" r="3.3"/><circle cx="631.0" cy="210.1" r="3.3"/><circle cx="631.8" cy="200.7" r="3.3"/><circle cx="631.4" cy="191.3" r="3.3"/><circle cx="630.4" cy="182.1" r="3.3"/><circle cx="628.7" cy="173.0" r="3.3"/><circle cx="626.5" cy="164.0" r="3.3"/><circle cx="624.0" cy="155.1" r="3.3"/><circle cx="621.5" cy="146.5" r="3.3"/><circle cx="619.0" cy="138.1" r="3.3"/><circle cx="616.5" cy="130.0" r="3.3"/><circle cx="614.1" cy="122.2" r="3.3"/><circle cx="611.7" cy="114.6" r="3.3"/><circle cx="609.2" cy="107.4" r="3.3"/><circle cx="607.2" cy="100.5" r="3.3"/><circle cx="606.0" cy="94.0" r="3.3"/><circle cx="605.4" cy="87.8" r="3.3"/><circle cx="605.3" cy="81.9" r="3.3"/><circle cx="605.6" cy="76.3" r="3.3"/><circle cx="606.3" cy="71.1" r="3.3"/><circle cx="607.3" cy="66.2" r="3.3"/><circle cx="609.0" cy="61.7" r="3.3"/><circle cx="611.5" cy="57.4" r="3.3"/><circle cx="614.7" cy="53.4" r="3.3"/><circle cx="618.4" cy="49.7" r="3.3"/><circle cx="622.2" cy="46.2" r="3.3"/><circle cx="626.8" cy="43.0" r="3.3"/><circle cx="632.3" cy="40.1" r="3.3"/><circle cx="638.0" cy="37.3" r="3.3"/><circle cx="643.8" cy="34.8" r="3.3"/><circle cx="650.5" cy="32.5" r="3.3"/><circle cx="657.9" cy="30.3" r="3.3"/><circle cx="665.1" cy="28.3" r="3.3"/><circle cx="672.1" cy="26.5" r="3.3"/><circle cx="678.5" cy="24.8" r="3.3"/><circle cx="683.4" cy="23.3" r="3.3"/><circle cx="686.7" cy="21.9" r="3.3"/><circle cx="682.4" cy="19.7" r="3.3"/><circle cx="670.0" cy="18.6" r="3.3"/><circle cx="647.3" cy="17.4" r="3.3"/><circle cx="618.4" cy="16.3" r="3.3"/><circle cx="584.7" cy="15.6" r="3.3"/><circle cx="551.2" cy="15.2" r="3.3"/><circle cx="518.4" cy="14.7" r="3.3"/><circle cx="678.4" cy="390.9" r="3.3"/><circle cx="668.2" cy="392.1" r="3.3"/><circle cx="648.7" cy="393.2" r="3.3"/><circle cx="620.7" cy="394.1" r="3.3"/><circle cx="586.2" cy="394.9" r="3.3"/><circle cx="551.2" cy="395.6" r="3.3"/><circle cx="518.4" cy="396.2" r="3.3"/></g></g>
<g><circle cx="526.8" cy="249.8" r="6.9" class="mk"/><path d="M535.9 93.4 L543.4 108.0 L528.4 108.0 Z" class="mk"/><rect x="569.9" y="27.1" width="14.7" height="14.7" class="mk"/></g>
<g><text x="503.0" y="24.9" text-anchor="end" class="tk">1.0</text><text x="503.0" y="63.2" text-anchor="end" class="tk">0.8</text><text x="503.0" y="101.5" text-anchor="end" class="tk">0.6</text><text x="503.0" y="139.9" text-anchor="end" class="tk">0.4</text><text x="503.0" y="178.2" text-anchor="end" class="tk">0.2</text><text x="503.0" y="216.5" text-anchor="end" class="tk">0</text><text x="503.0" y="254.8" text-anchor="end" class="tk">0.2</text><text x="452.3" y="256.4" class="tk" textLength="18.8" lengthAdjust="spacingAndGlyphs">−</text><text x="503.0" y="293.1" text-anchor="end" class="tk">0.4</text><text x="452.3" y="294.7" class="tk" textLength="18.8" lengthAdjust="spacingAndGlyphs">−</text><text x="503.0" y="331.5" text-anchor="end" class="tk">0.6</text><text x="452.3" y="333.1" class="tk" textLength="18.8" lengthAdjust="spacingAndGlyphs">−</text><text x="503.0" y="369.8" text-anchor="end" class="tk">0.8</text><text x="452.3" y="371.4" class="tk" textLength="18.8" lengthAdjust="spacingAndGlyphs">−</text><text x="503.0" y="408.1" text-anchor="end" class="tk">1.0</text><text x="452.3" y="409.7" class="tk" textLength="18.8" lengthAdjust="spacingAndGlyphs">−</text><text x="514.1" y="426.9" text-anchor="middle" class="tk">0</text><text x="578.5" y="426.9" text-anchor="middle" class="tk">0.5</text><text x="643.6" y="426.9" text-anchor="middle" class="tk">1.0</text><text x="708.0" y="426.9" text-anchor="middle" class="tk">1.5</text><text x="771.9" y="426.9" text-anchor="middle" class="tk">2.0</text></g>
<text x="414.6" y="24.7" class="lb">(<tspan class="it">b</tspan><tspan dx="0.4">)</tspan></text>
<g><text x="598.0" y="465.2" class="lb it">T</text><text x="615.8" y="464.2" class="lb">′</text><text x="615.4" y="469.3" class="sub">rms</text><text x="654.9" y="465.2" class="lb">(K)</text></g>
<g><line x1="973.50" y1="14.3" x2="973.50" y2="396.5" class="gr"/><line x1="1038.00" y1="14.3" x2="1038.00" y2="396.5" class="gr"/><line x1="1102.50" y1="14.3" x2="1102.50" y2="396.5" class="gr"/><line x1="1167.00" y1="14.3" x2="1167.00" y2="398.8" class="gr2"/><line x1="909.0" y1="52.52" x2="1167.0" y2="52.52" class="gr"/><line x1="909.0" y1="90.74" x2="1167.0" y2="90.74" class="gr"/><line x1="909.0" y1="128.96" x2="1167.0" y2="128.96" class="gr"/><line x1="909.0" y1="167.18" x2="1167.0" y2="167.18" class="gr"/><line x1="909.0" y1="205.40" x2="1167.0" y2="205.40" class="gr"/><line x1="909.0" y1="243.62" x2="1167.0" y2="243.62" class="gr"/><line x1="909.0" y1="281.84" x2="1167.0" y2="281.84" class="gr"/><line x1="909.0" y1="320.06" x2="1167.0" y2="320.06" class="gr"/><line x1="909.0" y1="358.28" x2="1167.0" y2="358.28" class="gr"/><line x1="909.00" y1="396.5" x2="909.00" y2="399.0" class="tkm"/><line x1="973.50" y1="396.5" x2="973.50" y2="399.0" class="tkm"/><line x1="1038.00" y1="396.5" x2="1038.00" y2="399.0" class="tkm"/><line x1="1102.50" y1="396.5" x2="1102.50" y2="399.0" class="tkm"/><line x1="906.6" y1="14.30" x2="909.0" y2="14.30" class="tkm"/><line x1="906.6" y1="52.52" x2="909.0" y2="52.52" class="tkm"/><line x1="906.6" y1="90.74" x2="909.0" y2="90.74" class="tkm"/><line x1="906.6" y1="128.96" x2="909.0" y2="128.96" class="tkm"/><line x1="906.6" y1="167.18" x2="909.0" y2="167.18" class="tkm"/><line x1="906.6" y1="205.40" x2="909.0" y2="205.40" class="tkm"/><line x1="906.6" y1="243.62" x2="909.0" y2="243.62" class="tkm"/><line x1="906.6" y1="281.84" x2="909.0" y2="281.84" class="tkm"/><line x1="906.6" y1="320.06" x2="909.0" y2="320.06" class="tkm"/><line x1="906.6" y1="358.28" x2="909.0" y2="358.28" class="tkm"/><line x1="906.6" y1="396.50" x2="909.0" y2="396.50" class="tkm"/><line x1="909.00" y1="13.7" x2="909.00" y2="397.1" class="ax"/><line x1="909.0" y1="14.30" x2="1167.0" y2="14.30" class="ax"/><line x1="909.0" y1="396.50" x2="1167.0" y2="396.50" class="ax"/></g>
<g clip-path="url(#cc)"><path d="M1055.2 17.8L1055.3 17.9L1055.3 18.0L1055.4 18.2L1055.5 18.4L1055.6 18.5L1055.8 18.7L1055.9 18.9L1056.0 19.1L1056.1 19.3L1056.2 19.5L1056.3 19.7L1056.4 19.9L1056.6 20.1L1056.7 20.3L1056.8 20.5L1056.9 20.8L1057.1 21.0L1057.2 21.3L1057.3 21.5L1057.4 21.8L1057.6 22.1L1057.7 22.4L1057.8 22.7L1057.9 23.0L1058.0 23.3L1058.1 23.6L1058.1 23.9L1058.2 24.3L1058.3 24.6L1058.4 25.0L1058.5 25.4L1058.6 25.8L1058.7 26.2L1058.8 26.6L1058.9 27.0L1058.9 27.4L1059.0 27.9L1059.1 28.3L1059.2 28.8L1059.3 29.3L1059.4 29.8L1059.5 30.3L1059.5 30.9L1059.6 31.4L1059.6 32.0L1059.7 32.6L1059.7 33.2L1059.7 33.8L1059.8 34.5L1059.7 35.1L1059.7 35.8L1059.6 36.5L1059.5 37.2L1059.3 37.9L1059.1 38.7L1058.9 39.5L1058.7 40.3L1058.5 41.1L1058.2 42.0L1057.9 42.8L1057.6 43.7L1057.3 44.6L1057.1 45.6L1056.8 46.6L1056.5 47.5L1056.2 48.6L1055.9 49.6L1055.6 50.7L1055.3 51.8L1054.9 52.9L1054.6 54.1L1054.2 55.3L1053.8 56.5L1053.4 57.8L1053.0 59.1L1052.5 60.4L1052.1 61.7L1051.6 63.1L1051.1 64.5L1050.6 66.0L1050.1 67.5L1049.6 69.0L1049.2 70.6L1048.7 72.1L1048.2 73.8L1047.7 75.4L1047.2 77.1L1046.7 78.9L1046.2 80.6L1045.7 82.5L1045.2 84.3L1044.8 86.2L1044.3 88.1L1043.8 90.1L1043.4 92.1L1042.9 94.1L1042.5 96.2L1042.0 98.3L1041.6 100.5L1041.2 102.7L1040.8 104.9L1040.3 107.2L1039.9 109.5L1039.5 111.8L1039.2 114.2L1038.8 116.6L1038.5 119.1L1038.2 121.6L1037.9 124.1L1037.7 126.7L1037.4 129.3L1037.3 131.9L1037.1 134.6L1037.0 137.2L1036.9 140.0L1036.8 142.7L1036.7 145.5L1036.7 148.3L1036.6 151.2L1036.5 154.0L1036.4 156.9L1036.4 159.8L1036.3 162.8L1036.3 165.7L1036.3 168.7L1036.4 171.7L1036.4 174.7L1036.5 177.7L1036.7 180.8L1036.9 183.8L1037.1 186.9L1037.4 189.9L1037.7 193.0L1038.1 196.1L1038.5 199.2L1038.9 202.3L1039.4 205.4L1040.0 208.5L1040.7 211.6L1041.3 214.7L1042.0 217.8L1042.6 220.9L1043.3 223.9L1043.8 227.0L1044.4 230.0L1045.0 233.1L1045.5 236.1L1046.1 239.1L1046.7 242.1L1047.3 245.1L1048.0 248.0L1048.7 251.0L1049.5 253.9L1050.2 256.8L1051.0 259.6L1051.7 262.5L1052.5 265.3L1053.2 268.1L1054.0 270.8L1054.7 273.6L1055.5 276.2L1056.3 278.9L1057.1 281.5L1057.9 284.1L1058.8 286.7L1059.7 289.2L1060.5 291.7L1061.4 294.2L1062.2 296.6L1063.0 299.0L1063.8 301.3L1064.6 303.6L1065.4 305.9L1066.1 308.1L1066.9 310.3L1067.7 312.5L1068.5 314.6L1069.4 316.7L1070.2 318.7L1071.1 320.7L1071.9 322.7L1072.8 324.6L1073.7 326.5L1074.5 328.3L1075.4 330.2L1076.2 331.9L1077.1 333.7L1078.0 335.4L1078.8 337.0L1079.6 338.7L1080.4 340.2L1081.2 341.8L1082.0 343.3L1082.8 344.8L1083.5 346.3L1084.3 347.7L1085.1 349.1L1085.9 350.4L1086.7 351.7L1087.4 353.0L1088.2 354.3L1088.9 355.5L1089.6 356.7L1090.3 357.9L1091.1 359.0L1091.8 360.1L1092.5 361.2L1093.2 362.2L1093.8 363.3L1094.4 364.2L1095.0 365.2L1095.5 366.2L1095.9 367.1L1096.3 368.0L1096.7 368.8L1097.1 369.7L1097.4 370.5L1097.6 371.3L1097.7 372.1L1097.7 372.9L1097.8 373.6L1097.8 374.3L1097.8 375.0L1097.9 375.7L1097.9 376.3L1097.9 377.0L1097.9 377.6L1097.9 378.2L1097.8 378.8L1097.6 379.4L1097.4 379.9L1097.2 380.5L1096.9 381.0L1096.6 381.5L1096.3 382.0L1096.0 382.5L1095.7 382.9L1095.4 383.4L1095.1 383.8L1094.7 384.2L1094.3 384.6L1093.9 385.0L1093.5 385.4L1093.1 385.8L1092.7 386.2L1092.3 386.5L1091.9 386.9L1091.5 387.2L1091.2 387.5L1090.8 387.8L1090.5 388.1L1090.1 388.4L1089.8 388.7L1089.4 389.0L1089.1 389.3L1088.8 389.5L1088.4 389.8L1088.1 390.0L1087.8 390.3L1087.6 390.5L1087.3 390.7L1087.0 390.9L1086.8 391.1L1086.6 391.3L1086.4 391.5L1086.2 391.7L1086.0 391.9L1085.8 392.1L1085.6 392.3L1085.4 392.4L1085.3 392.6L1085.1 392.8L1085.0 392.9L1084.8 393.1L1084.7 393.2L1084.5 393.3L1084.4 393.5L1084.3 393.6L1084.2 393.7L1084.1 393.9L1083.9 394.0L1083.8 394.1L1083.7 394.2L1083.6 394.3L1083.5 394.4L1083.5 394.5L1083.4 394.6L1083.3 394.7L1083.2 394.8L1083.1 394.9L1083.0 395.0L1083.0 395.1L1082.9 395.2L1082.8 395.2L1082.8 395.3L1082.7 395.4L1082.6 395.5L1082.6 395.5L1082.5 395.6L1082.5 395.7L1082.4 395.7L1082.4 395.8L1082.3 395.8L1082.3 395.9L1082.2 396.0L1082.2 396.0L1082.1 396.1L1082.1 396.1L1082.1 396.2L1082.0 396.2L1082.0 396.3L1082.0 396.3L1081.9 396.3L1081.9 396.4L1081.9 396.4L1081.8 396.5L1081.8 396.5" class="dotted"/><path d="M994.4 14.5L994.4 14.5L994.4 14.5L994.5 14.6L994.5 14.6L994.6 14.7L994.7 14.7L994.7 14.8L994.8 14.8L994.8 14.9L994.9 15.0L994.9 15.0L995.0 15.1L995.1 15.1L995.1 15.2L995.2 15.3L995.3 15.3L995.4 15.4L995.4 15.5L995.5 15.6L995.6 15.6L995.7 15.7L995.8 15.8L995.9 15.9L996.0 16.0L996.0 16.1L996.1 16.2L996.2 16.3L996.3 16.4L996.5 16.5L996.6 16.6L996.7 16.7L996.8 16.8L996.9 16.9L997.0 17.1L997.2 17.2L997.3 17.3L997.4 17.5L997.6 17.6L997.7 17.7L997.9 17.9L998.0 18.0L998.2 18.2L998.3 18.4L998.5 18.5L998.7 18.7L998.8 18.9L999.0 19.1L999.2 19.3L999.4 19.5L999.6 19.7L999.8 19.9L1000.0 20.1L1000.2 20.3L1000.4 20.5L1000.7 20.8L1000.9 21.0L1001.2 21.3L1001.4 21.5L1001.7 21.8L1002.0 22.1L1002.3 22.4L1002.6 22.7L1002.9 23.0L1003.2 23.3L1003.5 23.6L1003.8 23.9L1004.1 24.3L1004.4 24.6L1004.7 25.0L1004.9 25.4L1005.1 25.8L1005.3 26.2L1005.5 26.6L1005.7 27.0L1005.8 27.4L1006.0 27.9L1006.1 28.3L1006.3 28.8L1006.4 29.3L1006.5 29.8L1006.7 30.3L1006.7 30.9L1006.8 31.4L1006.8 32.0L1006.8 32.6L1006.8 33.2L1006.7 33.8L1006.6 34.5L1006.5 35.1L1006.3 35.8L1006.1 36.5L1005.9 37.2L1005.7 37.9L1005.5 38.7L1005.3 39.5L1005.1 40.3L1004.8 41.1L1004.5 42.0L1004.1 42.8L1003.8 43.7L1003.4 44.6L1002.9 45.6L1002.5 46.6L1002.0 47.5L1001.6 48.6L1001.1 49.6L1000.5 50.7L1000.0 51.8L999.4 52.9L998.7 54.1L998.1 55.3L997.4 56.5L996.8 57.8L996.1 59.1L995.3 60.4L994.6 61.7L993.8 63.1L993.0 64.5L992.1 66.0L991.3 67.5L990.4 69.0L989.5 70.6L988.6 72.1L987.6 73.8L986.7 75.4L985.7 77.1L984.7 78.9L983.7 80.6L982.7 82.5L981.7 84.3L980.8 86.2L979.8 88.1L978.8 90.1L977.8 92.1L976.9 94.1L976.0 96.2L975.1 98.3L974.2 100.5L973.3 102.7L972.4 104.9L971.5 107.2L970.7 109.5L969.8 111.8L969.0 114.2L968.1 116.6L967.3 119.1L966.5 121.6L965.7 124.1L965.0 126.7L964.2 129.3L963.5 131.9L962.7 134.6L962.1 137.2L961.4 140.0L960.7 142.7L960.1 145.5L959.5 148.3L958.9 151.2L958.3 154.0L957.7 156.9L957.2 159.8L956.7 162.8L956.3 165.7L956.0 168.7L955.8 171.7L955.6 174.7L955.5 177.7L955.5 180.8L955.5 183.8L955.6 186.9L955.8 189.9L956.1 193.0L956.4 196.1L956.8 199.2L957.2 202.3L957.7 205.4L958.3 208.5L958.8 211.6L959.5 214.7L960.2 217.8L961.0 220.9L961.8 223.9L962.8 227.0L963.8 230.0L964.8 233.1L966.0 236.1L967.1 239.1L968.3 242.1L969.5 245.1L970.7 248.0L971.9 251.0L973.2 253.9L974.5 256.8L975.8 259.6L977.1 262.5L978.4 265.3L979.7 268.1L981.0 270.8L982.4 273.6L983.7 276.2L985.0 278.9L986.3 281.5L987.6 284.1L988.8 286.7L990.1 289.2L991.4 291.7L992.7 294.2L993.9 296.6L995.2 299.0L996.4 301.3L997.7 303.6L998.9 305.9L1000.1 308.1L1001.3 310.3L1002.4 312.5L1003.5 314.6L1004.6 316.7L1005.7 318.7L1006.7 320.7L1007.8 322.7L1008.8 324.6L1009.8 326.5L1010.9 328.3L1011.9 330.2L1012.9 331.9L1013.9 333.7L1014.9 335.4L1016.0 337.0L1017.1 338.7L1018.2 340.2L1019.3 341.8L1020.4 343.3L1021.5 344.8L1022.5 346.3L1023.5 347.7L1024.5 349.1L1025.4 350.4L1026.4 351.7L1027.3 353.0L1028.2 354.3L1029.1 355.5L1030.0 356.7L1030.9 357.9L1031.7 359.0L1032.6 360.1L1033.4 361.2L1034.2 362.2L1034.9 363.3L1035.7 364.2L1036.4 365.2L1037.1 366.2L1037.8 367.1L1038.4 368.0L1039.0 368.8L1039.5 369.7L1040.0 370.5L1040.5 371.3L1040.9 372.1L1041.1 372.9L1041.2 373.6L1041.4 374.3L1041.4 375.0L1041.5 375.7L1041.5 376.3L1041.4 377.0L1041.3 377.6L1041.1 378.2L1040.8 378.8L1040.6 379.4L1040.3 379.9L1040.1 380.5L1039.7 381.0L1039.4 381.5L1039.0 382.0L1038.5 382.5L1038.1 382.9L1037.6 383.4L1037.2 383.8L1036.8 384.2L1036.4 384.6L1035.9 385.0L1035.5 385.4L1035.1 385.8L1034.7 386.2L1034.2 386.5L1033.8 386.9L1033.4 387.2L1033.0 387.5L1032.6 387.8L1032.1 388.1L1031.7 388.4L1031.3 388.7L1030.8 389.0L1030.4 389.3L1029.9 389.5L1029.5 389.8L1029.1 390.0L1028.7 390.3L1028.3 390.5L1027.9 390.7L1027.5 390.9L1027.2 391.1L1026.8 391.3L1026.5 391.5L1026.2 391.7L1025.9 391.9L1025.6 392.1L1025.4 392.3L1025.1 392.4L1024.8 392.6L1024.5 392.8L1024.3 392.9L1024.1 393.1L1023.9 393.2L1023.7 393.3L1023.5 393.5L1023.3 393.6L1023.1 393.7L1023.0 393.9L1022.9 394.0L1022.8 394.1L1022.7 394.2L1022.6 394.3L1022.5 394.4L1022.4 394.5L1022.4 394.6L1022.3 394.7L1022.2 394.8L1022.2 394.9L1022.1 395.0L1022.1 395.1L1022.0 395.2L1022.0 395.2L1021.9 395.3L1021.9 395.4L1021.8 395.5L1021.8 395.5L1021.8 395.6L1021.7 395.7L1021.7 395.7L1021.7 395.8L1021.7 395.8L1021.6 395.9L1021.6 396.0L1021.6 396.0L1021.6 396.1L1021.6 396.1L1021.6 396.2L1021.5 396.2L1021.5 396.3L1021.5 396.3L1021.5 396.3L1021.5 396.4L1021.5 396.4L1021.5 396.5L1021.5 396.5" class="dashed"/><path d="M994.8 14.5L994.9 14.5L994.9 14.5L995.0 14.6L995.0 14.6L995.1 14.7L995.1 14.7L995.2 14.8L995.2 14.8L995.3 14.9L995.4 15.0L995.4 15.0L995.5 15.1L995.6 15.1L995.6 15.2L995.7 15.3L995.8 15.3L995.9 15.4L996.0 15.5L996.0 15.6L996.1 15.6L996.2 15.7L996.3 15.8L996.4 15.9L996.5 16.0L996.6 16.1L996.7 16.2L996.8 16.3L996.9 16.4L997.1 16.5L997.2 16.6L997.3 16.7L997.4 16.8L997.6 16.9L997.7 17.1L997.8 17.2L998.0 17.3L998.1 17.5L998.3 17.6L998.4 17.7L998.6 17.9L998.7 18.0L998.9 18.2L999.1 18.4L999.3 18.5L999.5 18.7L999.6 18.9L999.8 19.1L1000.0 19.3L1000.2 19.5L1000.5 19.7L1000.7 19.9L1000.9 20.1L1001.2 20.3L1001.4 20.5L1001.7 20.8L1002.0 21.0L1002.3 21.3L1002.6 21.5L1002.9 21.8L1003.2 22.1L1003.5 22.4L1003.9 22.7L1004.2 23.0L1004.6 23.3L1004.9 23.6L1005.3 23.9L1005.6 24.3L1006.0 24.6L1006.3 25.0L1006.6 25.4L1006.9 25.8L1007.1 26.2L1007.3 26.6L1007.5 27.0L1007.7 27.4L1007.9 27.9L1008.1 28.3L1008.3 28.8L1008.5 29.3L1008.7 29.8L1008.9 30.3L1009.0 30.9L1009.1 31.4L1009.1 32.0L1009.1 32.6L1009.0 33.2L1008.9 33.8L1008.8 34.5L1008.6 35.1L1008.4 35.8L1008.2 36.5L1007.9 37.2L1007.6 37.9L1007.4 38.7L1007.1 39.5L1006.8 40.3L1006.4 41.1L1006.0 42.0L1005.6 42.8L1005.1 43.7L1004.6 44.6L1004.1 45.6L1003.5 46.6L1003.0 47.5L1002.4 48.6L1001.9 49.6L1001.3 50.7L1000.6 51.8L1000.0 52.9L999.3 54.1L998.6 55.3L997.9 56.5L997.1 57.8L996.4 59.1L995.6 60.4L994.7 61.7L993.9 63.1L993.1 64.5L992.2 66.0L991.3 67.5L990.4 69.0L989.4 70.6L988.5 72.1L987.5 73.8L986.5 75.4L985.5 77.1L984.5 78.9L983.5 80.6L982.4 82.5L981.4 84.3L980.3 86.2L979.3 88.1L978.2 90.1L977.1 92.1L976.0 94.1L974.9 96.2L973.8 98.3L972.6 100.5L971.5 102.7L970.4 104.9L969.2 107.2L968.0 109.5L966.9 111.8L965.7 114.2L964.5 116.6L963.3 119.1L962.2 121.6L961.0 124.1L959.8 126.7L958.7 129.3L957.6 131.9L956.5 134.6L955.5 137.2L954.5 140.0L953.6 142.7L952.7 145.5L951.8 148.3L951.0 151.2L950.3 154.0L949.6 156.9L948.9 159.8L948.3 162.8L947.7 165.7L947.1 168.7L946.6 171.7L946.2 174.7L945.8 177.7L945.6 180.8L945.4 183.8L945.4 186.9L945.4 189.9L945.5 193.0L945.8 196.1L946.1 199.2L946.5 202.3L946.9 205.4L947.4 208.5L947.9 211.6L948.4 214.7L949.0 217.8L949.7 220.9L950.6 223.9L951.5 227.0L952.6 230.0L953.8 233.1L955.0 236.1L956.3 239.1L957.5 242.1L958.7 245.1L959.8 248.0L961.0 251.0L962.1 253.9L963.3 256.8L964.4 259.6L965.6 262.5L966.7 265.3L967.9 268.1L969.1 270.8L970.3 273.6L971.5 276.2L972.7 278.9L973.9 281.5L975.2 284.1L976.5 286.7L977.7 289.2L979.0 291.7L980.2 294.2L981.5 296.6L982.8 299.0L984.0 301.3L985.2 303.6L986.4 305.9L987.6 308.1L988.8 310.3L989.9 312.5L991.0 314.6L992.1 316.7L993.1 318.7L994.2 320.7L995.2 322.7L996.2 324.6L997.2 326.5L998.1 328.3L999.1 330.2L1000.1 331.9L1001.1 333.7L1002.1 335.4L1003.1 337.0L1004.2 338.7L1005.3 340.2L1006.3 341.8L1007.3 343.3L1008.3 344.8L1009.3 346.3L1010.2 347.7L1011.1 349.1L1012.0 350.4L1012.8 351.7L1013.7 353.0L1014.6 354.3L1015.4 355.5L1016.2 356.7L1017.1 357.9L1017.9 359.0L1018.7 360.1L1019.4 361.2L1020.2 362.2L1020.9 363.3L1021.7 364.2L1022.4 365.2L1023.2 366.2L1023.9 367.1L1024.5 368.0L1025.1 368.8L1025.6 369.7L1026.1 370.5L1026.6 371.3L1027.0 372.1L1027.3 372.9L1027.6 373.6L1027.8 374.3L1028.0 375.0L1028.1 375.7L1028.2 376.3L1028.3 377.0L1028.3 377.6L1028.2 378.2L1028.1 378.8L1027.9 379.4L1027.7 379.9L1027.5 380.5L1027.2 381.0L1027.0 381.5L1026.7 382.0L1026.4 382.5L1026.0 382.9L1025.6 383.4L1025.2 383.8L1024.8 384.2L1024.4 384.6L1023.9 385.0L1023.5 385.4L1023.0 385.8L1022.6 386.2L1022.1 386.5L1021.6 386.9L1021.2 387.2L1020.7 387.5L1020.2 387.8L1019.7 388.1L1019.3 388.4L1018.7 388.7L1018.2 389.0L1017.7 389.3L1017.2 389.5L1016.7 389.8L1016.2 390.0L1015.8 390.3L1015.4 390.5L1015.0 390.7L1014.7 390.9L1014.3 391.1L1014.0 391.3L1013.7 391.5L1013.4 391.7L1013.1 391.9L1012.9 392.1L1012.6 392.3L1012.4 392.4L1012.1 392.6L1011.9 392.8L1011.7 392.9L1011.6 393.1L1011.4 393.2L1011.2 393.3L1011.1 393.5L1011.0 393.6L1010.9 393.7L1010.7 393.9L1010.6 394.0L1010.5 394.1L1010.5 394.2L1010.4 394.3L1010.3 394.4L1010.2 394.5L1010.1 394.6L1010.1 394.7L1010.0 394.8L1009.9 394.9L1009.9 395.0L1009.8 395.1L1009.8 395.2L1009.7 395.2L1009.7 395.3L1009.6 395.4L1009.6 395.5L1009.5 395.5L1009.5 395.6L1009.5 395.7L1009.4 395.7L1009.4 395.8L1009.4 395.8L1009.3 395.9L1009.3 396.0L1009.3 396.0L1009.3 396.1L1009.2 396.1L1009.2 396.2L1009.2 396.2L1009.2 396.3L1009.2 396.3L1009.2 396.3L1009.1 396.4L1009.1 396.4L1009.1 396.5L1009.1 396.5" class="solid"/><g class="bd"><circle cx="1031.2" cy="395.9" r="3.3"/><circle cx="1031.7" cy="395.2" r="3.3"/><circle cx="1032.3" cy="394.3" r="3.3"/><circle cx="1033.1" cy="393.4" r="3.3"/><circle cx="1034.0" cy="392.4" r="3.3"/><circle cx="1035.1" cy="391.4" r="3.3"/><circle cx="1036.4" cy="390.2" r="3.3"/><circle cx="1038.1" cy="388.9" r="3.3"/><circle cx="1040.5" cy="387.5" r="3.3"/><circle cx="1042.9" cy="386.0" r="3.3"/><circle cx="1044.7" cy="384.3" r="3.3"/><circle cx="1046.4" cy="382.5" r="3.3"/><circle cx="1047.7" cy="380.5" r="3.3"/><circle cx="1048.4" cy="378.3" r="3.3"/><circle cx="1048.9" cy="376.0" r="3.3"/><circle cx="1049.1" cy="373.5" r="3.3"/><circle cx="1048.8" cy="370.7" r="3.3"/><circle cx="1047.9" cy="367.8" r="3.3"/><circle cx="1046.7" cy="364.6" r="3.3"/><circle cx="1045.2" cy="361.1" r="3.3"/><circle cx="1043.2" cy="357.4" r="3.3"/><circle cx="1041.0" cy="353.4" r="3.3"/><circle cx="1038.5" cy="349.1" r="3.3"/><circle cx="1035.7" cy="344.6" r="3.3"/><circle cx="1032.6" cy="339.7" r="3.3"/><circle cx="1029.5" cy="334.5" r="3.3"/><circle cx="1026.3" cy="328.9" r="3.3"/><circle cx="1022.9" cy="323.0" r="3.3"/><circle cx="1019.4" cy="316.8" r="3.3"/><circle cx="1015.8" cy="310.3" r="3.3"/><circle cx="1012.0" cy="303.4" r="3.3"/><circle cx="1008.1" cy="296.2" r="3.3"/><circle cx="1004.3" cy="288.6" r="3.3"/><circle cx="1000.8" cy="280.8" r="3.3"/><circle cx="997.3" cy="272.7" r="3.3"/><circle cx="993.8" cy="264.3" r="3.3"/><circle cx="990.2" cy="255.7" r="3.3"/><circle cx="986.7" cy="246.8" r="3.3"/><circle cx="983.4" cy="237.8" r="3.3"/><circle cx="980.5" cy="228.7" r="3.3"/><circle cx="978.1" cy="219.5" r="3.3"/><circle cx="976.6" cy="210.1" r="3.3"/><circle cx="975.7" cy="200.7" r="3.3"/><circle cx="975.4" cy="191.3" r="3.3"/><circle cx="975.8" cy="182.1" r="3.3"/><circle cx="976.9" cy="173.0" r="3.3"/><circle cx="978.4" cy="164.0" r="3.3"/><circle cx="980.5" cy="155.1" r="3.3"/><circle cx="982.9" cy="146.5" r="3.3"/><circle cx="985.3" cy="138.1" r="3.3"/><circle cx="987.8" cy="130.0" r="3.3"/><circle cx="990.5" cy="122.2" r="3.3"/><circle cx="993.4" cy="114.6" r="3.3"/><circle cx="996.3" cy="107.4" r="3.3"/><circle cx="999.3" cy="100.5" r="3.3"/><circle cx="1002.4" cy="94.0" r="3.3"/><circle cx="1005.5" cy="87.8" r="3.3"/><circle cx="1008.6" cy="81.9" r="3.3"/><circle cx="1011.5" cy="76.3" r="3.3"/><circle cx="1014.2" cy="71.1" r="3.3"/><circle cx="1016.7" cy="66.2" r="3.3"/><circle cx="1019.7" cy="61.7" r="3.3"/><circle cx="1022.4" cy="57.4" r="3.3"/><circle cx="1024.1" cy="53.4" r="3.3"/><circle cx="1025.6" cy="49.7" r="3.3"/><circle cx="1027.2" cy="46.2" r="3.3"/><circle cx="1028.5" cy="43.0" r="3.3"/><circle cx="1029.5" cy="40.1" r="3.3"/><circle cx="1030.2" cy="37.3" r="3.3"/><circle cx="1030.3" cy="34.8" r="3.3"/><circle cx="1029.8" cy="32.5" r="3.3"/><circle cx="1028.9" cy="30.3" r="3.3"/><circle cx="1028.0" cy="28.3" r="3.3"/><circle cx="1027.0" cy="26.5" r="3.3"/><circle cx="1025.7" cy="24.8" r="3.3"/><circle cx="1024.3" cy="23.3" r="3.3"/><circle cx="1022.9" cy="21.9" r="3.3"/><circle cx="1021.7" cy="20.6" r="3.3"/><circle cx="1020.6" cy="19.4" r="3.3"/><circle cx="1019.7" cy="18.4" r="3.3"/><circle cx="1018.8" cy="17.4" r="3.3"/><circle cx="1018.0" cy="16.5" r="3.3"/><circle cx="1017.3" cy="15.6" r="3.3"/><circle cx="1016.7" cy="14.9" r="3.3"/></g></g>
<g><circle cx="960.9" cy="249.8" r="6.9" class="mk"/><path d="M975.6 93.4 L983.1 108.0 L968.1 108.0 Z" class="mk"/><rect x="1052.2" y="27.1" width="14.7" height="14.7" class="mk"/></g>
<g><text x="896.7" y="24.9" text-anchor="end" class="tk">1.0</text><text x="896.7" y="63.2" text-anchor="end" class="tk">0.8</text><text x="896.7" y="101.5" text-anchor="end" class="tk">0.6</text><text x="896.7" y="139.9" text-anchor="end" class="tk">0.4</text><text x="896.7" y="178.2" text-anchor="end" class="tk">0.2</text><text x="896.7" y="216.5" text-anchor="end" class="tk">0</text><text x="896.7" y="254.8" text-anchor="end" class="tk">0.2</text><text x="846.0" y="256.4" class="tk" textLength="18.8" lengthAdjust="spacingAndGlyphs">−</text><text x="896.7" y="293.1" text-anchor="end" class="tk">0.4</text><text x="846.0" y="294.7" class="tk" textLength="18.8" lengthAdjust="spacingAndGlyphs">−</text><text x="896.7" y="331.5" text-anchor="end" class="tk">0.6</text><text x="846.0" y="333.1" class="tk" textLength="18.8" lengthAdjust="spacingAndGlyphs">−</text><text x="896.7" y="369.8" text-anchor="end" class="tk">0.8</text><text x="846.0" y="371.4" class="tk" textLength="18.8" lengthAdjust="spacingAndGlyphs">−</text><text x="896.7" y="408.1" text-anchor="end" class="tk">1.0</text><text x="846.0" y="409.7" class="tk" textLength="18.8" lengthAdjust="spacingAndGlyphs">−</text><text x="909.4" y="426.9" text-anchor="middle" class="tk">0</text><text x="974.2" y="426.9" text-anchor="middle" class="tk">2000</text><text x="1038.7" y="426.9" text-anchor="middle" class="tk">4000</text><text x="1104.2" y="426.9" text-anchor="middle" class="tk">6000</text><text x="1168.8" y="426.9" text-anchor="middle" class="tk">8000</text></g>
<text x="808.8" y="24.7" class="lb">(<tspan class="it">c</tspan><tspan dx="0.4">)</tspan></text>
<g><text x="986.6" y="464.2" class="lb it">p</text><text x="1003.0" y="466.7" class="lb">′</text><text x="1002.6" y="468.7" class="sub">rms</text><text x="1042.5" y="464.2" class="lb">(Pa)</text></g>
<g><line x1="192.30" y1="509.4" x2="192.30" y2="891.6" class="gr"/><line x1="256.80" y1="509.4" x2="256.80" y2="891.6" class="gr"/><line x1="321.30" y1="509.4" x2="321.30" y2="891.6" class="gr"/><line x1="385.80" y1="509.4" x2="385.80" y2="893.9" class="gr2"/><line x1="127.8" y1="547.62" x2="385.8" y2="547.62" class="gr"/><line x1="127.8" y1="585.84" x2="385.8" y2="585.84" class="gr"/><line x1="127.8" y1="624.06" x2="385.8" y2="624.06" class="gr"/><line x1="127.8" y1="662.28" x2="385.8" y2="662.28" class="gr"/><line x1="127.8" y1="700.50" x2="385.8" y2="700.50" class="gr"/><line x1="127.8" y1="738.72" x2="385.8" y2="738.72" class="gr"/><line x1="127.8" y1="776.94" x2="385.8" y2="776.94" class="gr"/><line x1="127.8" y1="815.16" x2="385.8" y2="815.16" class="gr"/><line x1="127.8" y1="853.38" x2="385.8" y2="853.38" class="gr"/><line x1="127.80" y1="891.6" x2="127.80" y2="894.1" class="tkm"/><line x1="192.30" y1="891.6" x2="192.30" y2="894.1" class="tkm"/><line x1="256.80" y1="891.6" x2="256.80" y2="894.1" class="tkm"/><line x1="321.30" y1="891.6" x2="321.30" y2="894.1" class="tkm"/><line x1="125.4" y1="509.40" x2="127.8" y2="509.40" class="tkm"/><line x1="125.4" y1="547.62" x2="127.8" y2="547.62" class="tkm"/><line x1="125.4" y1="585.84" x2="127.8" y2="585.84" class="tkm"/><line x1="125.4" y1="624.06" x2="127.8" y2="624.06" class="tkm"/><line x1="125.4" y1="662.28" x2="127.8" y2="662.28" class="tkm"/><line x1="125.4" y1="700.50" x2="127.8" y2="700.50" class="tkm"/><line x1="125.4" y1="738.72" x2="127.8" y2="738.72" class="tkm"/><line x1="125.4" y1="776.94" x2="127.8" y2="776.94" class="tkm"/><line x1="125.4" y1="815.16" x2="127.8" y2="815.16" class="tkm"/><line x1="125.4" y1="853.38" x2="127.8" y2="853.38" class="tkm"/><line x1="125.4" y1="891.60" x2="127.8" y2="891.60" class="tkm"/><line x1="127.80" y1="508.8" x2="127.80" y2="892.2" class="ax"/><line x1="127.8" y1="509.40" x2="385.8" y2="509.40" class="ax"/><line x1="127.8" y1="891.60" x2="385.8" y2="891.60" class="ax"/></g>
<g clip-path="url(#cd)"><path d="M127.5 509.5L130.3 509.5L136.5 509.6L142.8 509.6L149.0 509.6L155.4 509.7L161.8 509.7L168.2 509.8L174.5 509.8L181.0 509.9L187.1 509.9L193.4 510.0L199.3 510.1L205.1 510.1L210.6 510.2L215.9 510.2L221.2 510.3L226.3 510.4L231.2 510.4L236.1 510.5L240.9 510.6L245.5 510.7L249.9 510.7L254.2 510.8L258.5 510.9L262.7 511.0L266.9 511.1L271.2 511.2L275.4 511.3L279.6 511.4L283.9 511.5L288.1 511.6L292.3 511.7L296.4 511.8L300.5 511.9L304.6 512.0L308.7 512.2L312.7 512.3L316.6 512.4L320.5 512.6L324.3 512.7L328.3 512.8L332.4 513.0L336.7 513.1L341.2 513.3L345.7 513.5L350.3 513.6L354.8 513.8L359.1 514.0L363.1 514.2L366.8 514.4L370.0 514.6L372.4 514.8L373.9 515.0L374.4 515.2L373.9 515.4L372.8 515.6L370.9 515.9L368.5 516.1L365.5 516.4L362.0 516.6L358.1 516.9L354.0 517.2L349.8 517.5L345.7 517.8L341.9 518.1L338.3 518.4L334.5 518.7L330.5 519.0L326.4 519.4L322.2 519.7L317.9 520.1L313.6 520.5L309.5 520.9L305.4 521.3L301.2 521.7L296.9 522.1L292.6 522.5L288.3 523.0L284.2 523.4L280.2 523.9L276.6 524.4L273.5 524.9L270.7 525.4L267.9 526.0L265.2 526.5L262.6 527.1L260.0 527.7L257.5 528.3L255.1 528.9L252.7 529.6L250.5 530.2L248.3 530.9L246.1 531.6L244.1 532.3L242.1 533.0L240.2 533.8L238.4 534.6L236.8 535.4L235.3 536.2L233.7 537.1L232.1 537.9L230.5 538.8L229.2 539.7L227.9 540.7L226.7 541.7L225.4 542.6L224.2 543.7L222.9 544.7L221.8 545.8L220.7 546.9L219.7 548.0L218.7 549.2L217.8 550.4L217.0 551.6L216.1 552.9L215.4 554.2L214.7 555.5L214.0 556.8L213.4 558.2L212.9 559.6L212.4 561.1L211.9 562.6L211.5 564.1L211.0 565.7L210.6 567.2L210.3 568.9L209.9 570.5L209.6 572.2L209.4 574.0L209.2 575.7L209.1 577.6L209.0 579.4L208.9 581.3L208.8 583.2L208.8 585.2L208.8 587.2L208.9 589.2L209.0 591.3L209.1 593.4L209.3 595.6L209.5 597.8L209.8 600.0L210.1 602.3L210.3 604.6L210.6 606.9L210.9 609.3L211.2 611.7L211.4 614.2L211.6 616.7L211.9 619.2L212.1 621.8L212.4 624.4L212.6 627.0L212.9 629.7L213.1 632.3L213.3 635.1L213.5 637.8L213.6 640.6L213.6 643.4L213.6 646.3L213.5 649.1L213.4 652.0L213.2 654.9L213.0 657.9L212.7 660.8L212.3 663.8L211.9 666.8L211.4 669.8L210.9 672.8L210.2 675.9L209.5 678.9L208.7 682.0L207.8 685.0L206.9 688.1L206.0 691.2L205.1 694.3L204.3 697.4L203.5 700.5L202.7 703.6L201.8 706.7L200.8 709.8L199.6 712.9L198.4 716.0L197.2 719.0L196.1 722.1L194.9 725.1L193.8 728.2L192.7 731.2L191.6 734.2L190.6 737.2L189.5 740.2L188.4 743.1L187.4 746.1L186.3 749.0L185.3 751.9L184.4 754.7L183.5 757.6L182.7 760.4L182.0 763.2L181.3 765.9L180.6 768.7L180.0 771.3L179.4 774.0L178.9 776.6L178.4 779.2L177.9 781.8L177.4 784.3L177.0 786.8L176.7 789.3L176.4 791.7L176.2 794.1L176.1 796.4L175.9 798.7L175.8 801.0L175.7 803.2L175.6 805.4L175.5 807.6L175.4 809.7L175.3 811.8L175.3 813.8L175.2 815.8L175.2 817.8L175.2 819.7L175.2 821.6L175.2 823.4L175.2 825.3L175.3 827.0L175.3 828.8L175.4 830.5L175.5 832.1L175.6 833.8L175.8 835.3L175.9 836.9L176.1 838.4L176.3 839.9L176.5 841.4L176.8 842.8L177.1 844.2L177.4 845.5L177.7 846.8L178.1 848.1L178.5 849.4L178.8 850.6L179.2 851.8L179.6 853.0L180.1 854.1L180.5 855.2L181.0 856.3L181.5 857.3L182.0 858.4L182.5 859.3L183.0 860.3L183.6 861.3L184.2 862.2L184.8 863.1L185.5 863.9L186.1 864.8L186.7 865.6L187.4 866.4L188.1 867.2L188.7 868.0L189.4 868.7L190.2 869.4L190.9 870.1L191.6 870.8L192.4 871.4L193.2 872.1L193.9 872.7L194.7 873.3L195.5 873.9L196.4 874.5L197.2 875.0L198.1 875.6L198.9 876.1L199.8 876.6L200.7 877.1L201.6 877.6L202.5 878.0L203.5 878.5L204.4 878.9L205.4 879.3L206.4 879.7L207.4 880.1L208.4 880.5L209.5 880.9L210.5 881.3L211.6 881.6L212.7 882.0L213.8 882.3L214.9 882.6L216.1 882.9L217.3 883.2L218.6 883.5L219.8 883.8L221.1 884.1L222.4 884.4L224.1 884.6L226.0 884.9L227.9 885.1L229.6 885.4L231.0 885.6L231.9 885.8L232.4 886.0L232.3 886.2L231.9 886.4L231.3 886.6L230.4 886.8L229.4 887.0L228.2 887.2L226.8 887.4L225.3 887.5L223.7 887.7L222.1 887.9L220.3 888.0L218.6 888.2L216.8 888.3L214.9 888.4L213.1 888.6L211.2 888.7L209.3 888.8L207.5 889.0L205.6 889.1L203.8 889.2L202.0 889.3L200.2 889.4L198.4 889.5L196.3 889.6L194.0 889.7L191.4 889.8L188.6 889.9L185.7 890.0L182.6 890.1L179.5 890.2L176.3 890.3L173.1 890.3L169.8 890.4L166.6 890.5L163.3 890.6L160.1 890.6L157.0 890.7L153.9 890.8L150.8 890.8L147.8 890.9L144.9 890.9L142.1 891.0L139.3 891.1L136.6 891.1L134.0 891.2L131.5 891.2L129.2 891.3L127.8 891.3" class="dotted"/><path d="M127.5 509.5L129.3 509.5L133.2 509.6L137.2 509.6L141.3 509.6L145.4 509.7L149.6 509.7L153.9 509.8L158.3 509.8L162.7 509.9L167.1 509.9L171.6 510.0L176.1 510.1L180.6 510.1L185.1 510.2L189.6 510.2L194.0 510.3L198.4 510.4L202.7 510.4L207.1 510.5L211.6 510.6L216.2 510.7L220.8 510.7L225.3 510.8L229.8 510.9L234.3 511.0L238.5 511.1L242.4 511.2L246.0 511.3L249.2 511.4L252.1 511.5L255.0 511.6L257.9 511.7L260.8 511.8L263.6 511.9L266.2 512.0L268.5 512.2L270.4 512.3L271.8 512.4L272.5 512.6L272.5 512.7L272.2 512.8L271.6 513.0L270.9 513.1L269.9 513.3L268.8 513.5L267.6 513.6L266.4 513.8L265.3 514.0L264.4 514.2L263.5 514.4L262.7 514.6L261.9 514.8L261.1 515.0L260.3 515.2L259.4 515.4L258.5 515.6L257.5 515.9L256.4 516.1L255.1 516.4L253.5 516.6L251.6 516.9L249.5 517.2L247.3 517.5L245.1 517.8L243.1 518.1L241.1 518.4L239.2 518.7L237.3 519.0L235.3 519.4L233.4 519.7L231.4 520.1L229.4 520.5L227.3 520.9L225.3 521.3L223.4 521.7L221.6 522.1L219.9 522.5L218.2 523.0L216.6 523.4L215.1 523.9L213.5 524.4L212.0 524.9L210.5 525.4L208.9 526.0L207.3 526.5L205.7 527.1L204.2 527.7L202.7 528.3L201.2 528.9L199.8 529.6L198.4 530.2L197.0 530.9L195.6 531.6L194.3 532.3L193.1 533.0L191.9 533.8L190.8 534.6L189.7 535.4L188.6 536.2L187.6 537.1L186.7 537.9L185.7 538.8L184.8 539.7L183.9 540.7L183.1 541.7L182.3 542.6L181.5 543.7L180.8 544.7L180.2 545.8L179.6 546.9L179.0 548.0L178.5 549.2L178.0 550.4L177.5 551.6L177.0 552.9L176.6 554.2L176.2 555.5L175.9 556.8L175.7 558.2L175.5 559.6L175.3 561.1L175.1 562.6L174.9 564.1L174.8 565.7L174.7 567.2L174.6 568.9L174.5 570.5L174.5 572.2L174.5 574.0L174.5 575.7L174.5 577.6L174.6 579.4L174.7 581.3L174.9 583.2L175.0 585.2L175.2 587.2L175.3 589.2L175.5 591.3L175.7 593.4L175.8 595.6L176.0 597.8L176.2 600.0L176.4 602.3L176.6 604.6L176.9 606.9L177.1 609.3L177.4 611.7L177.7 614.2L177.9 616.7L178.3 619.2L178.6 621.8L178.9 624.4L179.2 627.0L179.5 629.7L179.9 632.3L180.2 635.1L180.5 637.8L180.8 640.6L181.0 643.4L181.3 646.3L181.5 649.1L181.7 652.0L181.8 654.9L182.0 657.9L182.0 660.8L182.0 663.8L182.0 666.8L181.9 669.8L181.8 672.8L181.7 675.9L181.5 678.9L181.3 682.0L181.1 685.0L180.8 688.1L180.6 691.2L180.3 694.3L180.0 697.4L179.8 700.5L179.4 703.6L179.0 706.7L178.5 709.8L177.9 712.9L177.3 716.0L176.7 719.0L176.0 722.1L175.4 725.1L174.7 728.2L174.1 731.2L173.4 734.2L172.7 737.2L172.1 740.2L171.4 743.1L170.7 746.1L170.0 749.0L169.3 751.9L168.7 754.7L168.1 757.6L167.5 760.4L166.9 763.2L166.4 765.9L165.9 768.7L165.5 771.3L165.0 774.0L164.6 776.6L164.3 779.2L163.9 781.8L163.6 784.3L163.4 786.8L163.1 789.3L163.0 791.7L162.9 794.1L162.8 796.4L162.7 798.7L162.7 801.0L162.6 803.2L162.6 805.4L162.5 807.6L162.4 809.7L162.3 811.8L162.3 813.8L162.2 815.8L162.2 817.8L162.2 819.7L162.2 821.6L162.2 823.4L162.3 825.3L162.3 827.0L162.4 828.8L162.5 830.5L162.6 832.1L162.7 833.8L162.9 835.3L163.2 836.9L163.4 838.4L163.6 839.9L163.9 841.4L164.1 842.8L164.4 844.2L164.7 845.5L165.0 846.8L165.4 848.1L165.7 849.4L166.0 850.6L166.4 851.8L166.8 853.0L167.2 854.1L167.6 855.2L168.1 856.3L168.5 857.3L169.0 858.4L169.5 859.3L170.0 860.3L170.5 861.3L171.0 862.2L171.6 863.1L172.2 863.9L172.8 864.8L173.4 865.6L174.0 866.4L174.7 867.2L175.4 868.0L176.1 868.7L176.8 869.4L177.5 870.1L178.3 870.8L179.0 871.4L179.8 872.1L180.6 872.7L181.4 873.3L182.2 873.9L183.0 874.5L183.8 875.0L184.6 875.6L185.5 876.1L186.4 876.6L187.2 877.1L188.1 877.6L189.0 878.0L189.9 878.5L190.7 878.9L191.6 879.3L192.5 879.7L193.4 880.1L194.3 880.5L195.3 880.9L196.2 881.3L197.2 881.6L198.1 882.0L199.0 882.3L200.0 882.6L200.9 882.9L201.8 883.2L202.6 883.5L203.4 883.8L204.2 884.1L205.0 884.4L205.8 884.6L206.7 884.9L207.6 885.1L208.7 885.4L209.7 885.6L210.9 885.8L212.3 886.0L214.8 886.2L217.8 886.4L220.9 886.6L223.5 886.8L225.4 887.0L226.3 887.2L226.1 887.4L225.6 887.5L224.7 887.7L223.5 887.9L222.1 888.0L220.5 888.2L218.7 888.3L216.7 888.4L214.7 888.6L212.6 888.7L210.4 888.8L208.2 889.0L206.0 889.1L203.7 889.2L201.4 889.3L199.2 889.4L197.0 889.5L194.8 889.6L192.6 889.7L190.4 889.8L188.3 889.9L186.2 890.0L183.7 890.1L181.1 890.2L178.2 890.3L175.2 890.3L172.1 890.4L168.9 890.5L165.7 890.6L162.4 890.6L159.2 890.7L155.9 890.8L152.7 890.8L149.5 890.9L146.4 890.9L143.4 891.0L140.4 891.1L137.4 891.1L134.6 891.2L131.9 891.2L129.4 891.3L127.8 891.3" class="dashed"/><path d="M127.5 509.5L128.2 509.5L129.8 509.6L131.4 509.6L133.0 509.6L134.7 509.7L136.4 509.7L138.2 509.8L140.0 509.8L141.9 509.9L143.7 509.9L145.7 510.0L147.6 510.1L149.6 510.1L151.6 510.2L153.6 510.2L155.7 510.3L157.8 510.4L159.9 510.4L162.0 510.5L164.1 510.6L166.2 510.7L168.4 510.7L170.5 510.8L172.6 510.9L174.7 511.0L176.7 511.1L178.8 511.2L181.0 511.3L183.3 511.4L185.7 511.5L188.1 511.6L190.6 511.7L193.0 511.8L195.4 511.9L197.6 512.0L199.6 512.2L201.3 512.3L202.6 512.4L203.4 512.6L203.7 512.7L203.6 512.8L203.4 513.0L203.0 513.1L202.6 513.3L202.0 513.5L201.3 513.6L200.5 513.8L199.6 514.0L198.7 514.2L197.7 514.4L196.6 514.6L195.6 514.8L194.7 515.0L193.8 515.2L193.0 515.4L192.2 515.6L191.5 515.9L190.7 516.1L189.9 516.4L189.1 516.6L188.2 516.9L187.4 517.2L186.6 517.5L185.7 517.8L184.9 518.1L184.1 518.4L183.2 518.7L182.3 519.0L181.5 519.4L180.6 519.7L179.7 520.1L178.8 520.5L177.9 520.9L177.0 521.3L176.1 521.7L175.3 522.1L174.4 522.5L173.6 523.0L172.8 523.4L172.0 523.9L171.2 524.4L170.5 524.9L169.7 525.4L169.0 526.0L168.2 526.5L167.5 527.1L166.8 527.7L166.1 528.3L165.4 528.9L164.8 529.6L164.1 530.2L163.4 530.9L162.8 531.6L162.2 532.3L161.7 533.0L161.1 533.8L160.6 534.6L160.1 535.4L159.6 536.2L159.1 537.1L158.6 537.9L158.2 538.8L157.8 539.7L157.4 540.7L157.0 541.7L156.7 542.6L156.3 543.7L156.0 544.7L155.7 545.8L155.4 546.9L155.2 548.0L154.9 549.2L154.7 550.4L154.5 551.6L154.4 552.9L154.2 554.2L154.0 555.5L153.9 556.8L153.8 558.2L153.6 559.6L153.5 561.1L153.4 562.6L153.3 564.1L153.2 565.7L153.1 567.2L153.0 568.9L153.0 570.5L153.0 572.2L152.9 574.0L152.9 575.7L152.9 577.6L152.9 579.4L152.9 581.3L153.0 583.2L153.0 585.2L153.1 587.2L153.2 589.2L153.3 591.3L153.4 593.4L153.6 595.6L153.8 597.8L154.0 600.0L154.2 602.3L154.4 604.6L154.6 606.9L154.8 609.3L155.1 611.7L155.3 614.2L155.5 616.7L155.8 619.2L156.0 621.8L156.2 624.4L156.5 627.0L156.7 629.7L156.9 632.3L157.2 635.1L157.4 637.8L157.6 640.6L157.8 643.4L158.0 646.3L158.2 649.1L158.4 652.0L158.5 654.9L158.7 657.9L158.8 660.8L158.9 663.8L158.9 666.8L159.0 669.8L159.0 672.8L159.1 675.9L159.1 678.9L159.1 682.0L159.1 685.0L159.0 688.1L159.0 691.2L158.9 694.3L158.9 697.4L158.8 700.5L158.6 703.6L158.5 706.7L158.2 709.8L158.0 712.9L157.7 716.0L157.3 719.0L157.0 722.1L156.7 725.1L156.3 728.2L156.0 731.2L155.6 734.2L155.2 737.2L154.8 740.2L154.4 743.1L154.0 746.1L153.6 749.0L153.2 751.9L152.8 754.7L152.4 757.6L152.0 760.4L151.7 763.2L151.3 765.9L151.0 768.7L150.7 771.3L150.4 774.0L150.1 776.6L149.8 779.2L149.5 781.8L149.3 784.3L149.1 786.8L148.9 789.3L148.9 791.7L148.9 794.1L148.9 796.4L149.1 798.7L149.2 801.0L149.3 803.2L149.4 805.4L149.5 807.6L149.6 809.7L149.6 811.8L149.6 813.8L149.7 815.8L149.7 817.8L149.8 819.7L149.8 821.6L149.8 823.4L149.9 825.3L150.0 827.0L150.0 828.8L150.1 830.5L150.2 832.1L150.3 833.8L150.4 835.3L150.5 836.9L150.7 838.4L150.8 839.9L151.0 841.4L151.1 842.8L151.3 844.2L151.5 845.5L151.7 846.8L151.9 848.1L152.1 849.4L152.3 850.6L152.6 851.8L152.8 853.0L153.1 854.1L153.3 855.2L153.6 856.3L153.8 857.3L154.1 858.4L154.4 859.3L154.7 860.3L155.0 861.3L155.3 862.2L155.6 863.1L156.0 863.9L156.3 864.8L156.7 865.6L157.2 866.4L157.6 867.2L158.1 868.0L158.6 868.7L159.1 869.4L159.6 870.1L160.1 870.8L160.7 871.4L161.3 872.1L161.9 872.7L162.6 873.3L163.2 873.9L163.9 874.5L164.6 875.0L165.3 875.6L165.9 876.1L166.7 876.6L167.4 877.1L168.1 877.6L168.9 878.0L169.6 878.5L170.4 878.9L171.2 879.3L172.1 879.7L172.9 880.1L173.8 880.5L174.7 880.9L175.6 881.3L176.6 881.6L177.5 882.0L178.5 882.3L179.5 882.6L180.5 882.9L181.5 883.2L182.5 883.5L183.6 883.8L184.7 884.1L185.8 884.4L187.0 884.6L188.1 884.9L189.3 885.1L190.5 885.4L191.7 885.6L192.8 885.8L194.1 886.0L195.5 886.2L197.2 886.4L199.0 886.6L200.8 886.8L202.5 887.0L204.1 887.2L205.6 887.4L206.8 887.5L207.9 887.7L208.6 887.9L209.1 888.0L209.3 888.2L209.1 888.3L208.2 888.4L206.8 888.6L205.0 888.7L202.9 888.8L200.5 889.0L198.0 889.1L195.3 889.2L192.6 889.3L189.9 889.4L187.2 889.5L184.5 889.6L181.9 889.7L179.5 889.8L177.1 889.9L174.8 890.0L172.4 890.1L169.9 890.2L167.4 890.3L164.9 890.3L162.4 890.4L159.8 890.5L157.2 890.6L154.7 890.6L152.2 890.7L149.6 890.8L147.2 890.8L144.7 890.9L142.3 890.9L139.9 891.0L137.6 891.1L135.3 891.1L133.1 891.2L131.0 891.2L129.0 891.3L127.7 891.3" class="solid"/><g class="bd"><circle cx="165.0" cy="884.0" r="3.3"/><circle cx="163.8" cy="882.6" r="3.3"/><circle cx="162.5" cy="881.1" r="3.3"/><circle cx="161.0" cy="879.4" r="3.3"/><circle cx="159.4" cy="877.6" r="3.3"/><circle cx="157.7" cy="875.6" r="3.3"/><circle cx="156.1" cy="873.4" r="3.3"/><circle cx="154.5" cy="871.1" r="3.3"/><circle cx="153.2" cy="868.6" r="3.3"/><circle cx="152.0" cy="865.8" r="3.3"/><circle cx="150.9" cy="862.9" r="3.3"/><circle cx="150.0" cy="859.7" r="3.3"/><circle cx="149.1" cy="856.2" r="3.3"/><circle cx="148.4" cy="852.5" r="3.3"/><circle cx="147.7" cy="848.5" r="3.3"/><circle cx="147.1" cy="844.2" r="3.3"/><circle cx="146.6" cy="839.7" r="3.3"/><circle cx="146.2" cy="834.8" r="3.3"/><circle cx="145.9" cy="829.6" r="3.3"/><circle cx="145.8" cy="824.0" r="3.3"/><circle cx="145.8" cy="818.1" r="3.3"/><circle cx="145.9" cy="811.9" r="3.3"/><circle cx="146.0" cy="805.4" r="3.3"/><circle cx="145.9" cy="798.5" r="3.3"/><circle cx="146.0" cy="791.3" r="3.3"/><circle cx="146.5" cy="783.7" r="3.3"/><circle cx="147.2" cy="775.9" r="3.3"/><circle cx="148.0" cy="767.8" r="3.3"/><circle cx="148.8" cy="759.4" r="3.3"/><circle cx="149.9" cy="750.8" r="3.3"/><circle cx="151.2" cy="741.9" r="3.3"/><circle cx="152.3" cy="732.9" r="3.3"/><circle cx="153.4" cy="723.8" r="3.3"/><circle cx="154.5" cy="714.6" r="3.3"/><circle cx="155.3" cy="705.2" r="3.3"/><circle cx="155.5" cy="695.8" r="3.3"/><circle cx="155.3" cy="686.4" r="3.3"/><circle cx="154.9" cy="677.2" r="3.3"/><circle cx="154.6" cy="668.1" r="3.3"/><circle cx="154.2" cy="659.1" r="3.3"/><circle cx="153.8" cy="650.2" r="3.3"/><circle cx="153.4" cy="641.6" r="3.3"/><circle cx="152.8" cy="633.2" r="3.3"/><circle cx="152.2" cy="625.1" r="3.3"/><circle cx="151.5" cy="617.3" r="3.3"/><circle cx="151.0" cy="609.7" r="3.3"/><circle cx="150.5" cy="602.5" r="3.3"/><circle cx="150.1" cy="595.6" r="3.3"/><circle cx="149.6" cy="589.1" r="3.3"/><circle cx="149.4" cy="582.9" r="3.3"/><circle cx="149.2" cy="577.0" r="3.3"/><circle cx="149.3" cy="571.4" r="3.3"/><circle cx="149.5" cy="566.2" r="3.3"/><circle cx="149.8" cy="561.3" r="3.3"/><circle cx="150.2" cy="556.8" r="3.3"/><circle cx="150.8" cy="552.5" r="3.3"/><circle cx="151.5" cy="548.5" r="3.3"/><circle cx="152.3" cy="544.8" r="3.3"/><circle cx="153.3" cy="541.3" r="3.3"/><circle cx="154.3" cy="538.1" r="3.3"/><circle cx="155.5" cy="535.2" r="3.3"/><circle cx="156.9" cy="532.4" r="3.3"/><circle cx="158.5" cy="529.9" r="3.3"/><circle cx="160.1" cy="527.6" r="3.3"/><circle cx="161.8" cy="525.4" r="3.3"/><circle cx="163.5" cy="523.4" r="3.3"/><circle cx="165.1" cy="521.6" r="3.3"/><circle cx="166.6" cy="519.9" r="3.3"/><circle cx="167.9" cy="518.4" r="3.3"/><circle cx="169.2" cy="517.0" r="3.3"/><circle cx="165.2" cy="886.5" r="3.3"/><circle cx="163.0" cy="887.7" r="3.3"/><circle cx="157.3" cy="888.8" r="3.3"/><circle cx="150.5" cy="889.3" r="3.3"/><circle cx="142.6" cy="889.7" r="3.3"/><circle cx="134.7" cy="890.2" r="3.3"/><circle cx="127.9" cy="890.6" r="3.3"/><circle cx="129.1" cy="510.6" r="3.3"/><circle cx="136.1" cy="511.3" r="3.3"/><circle cx="144.5" cy="511.8" r="3.3"/><circle cx="152.9" cy="512.5" r="3.3"/><circle cx="159.6" cy="513.4" r="3.3"/><circle cx="164.5" cy="514.3" r="3.3"/><circle cx="167.8" cy="515.2" r="3.3"/></g></g>
<g><circle cx="153.9" cy="744.8" r="6.9" class="mk"/><path d="M175.4 588.4 L182.9 603.0 L167.9 603.0 Z" class="mk"/><rect x="247.2" y="522.1" width="14.7" height="14.7" class="mk"/></g>
<g><text x="115.5" y="520.0" text-anchor="end" class="tk">1.0</text><text x="115.5" y="558.3" text-anchor="end" class="tk">0.8</text><text x="115.5" y="596.6" text-anchor="end" class="tk">0.6</text><text x="115.5" y="635.0" text-anchor="end" class="tk">0.4</text><text x="115.5" y="673.3" text-anchor="end" class="tk">0.2</text><text x="115.5" y="711.6" text-anchor="end" class="tk">0</text><text x="115.5" y="749.9" text-anchor="end" class="tk">0.2</text><text x="64.8" y="751.5" class="tk" textLength="18.8" lengthAdjust="spacingAndGlyphs">−</text><text x="115.5" y="788.2" text-anchor="end" class="tk">0.4</text><text x="64.8" y="789.8" class="tk" textLength="18.8" lengthAdjust="spacingAndGlyphs">−</text><text x="115.5" y="826.6" text-anchor="end" class="tk">0.6</text><text x="64.8" y="828.2" class="tk" textLength="18.8" lengthAdjust="spacingAndGlyphs">−</text><text x="115.5" y="864.9" text-anchor="end" class="tk">0.8</text><text x="64.8" y="866.5" class="tk" textLength="18.8" lengthAdjust="spacingAndGlyphs">−</text><text x="115.5" y="903.2" text-anchor="end" class="tk">1.0</text><text x="64.8" y="904.8" class="tk" textLength="18.8" lengthAdjust="spacingAndGlyphs">−</text><text x="125.5" y="922.0" text-anchor="middle" class="tk">0</text><text x="190.2" y="922.0" text-anchor="middle" class="tk">0.3</text><text x="254.6" y="922.0" text-anchor="middle" class="tk">0.6</text><text x="320.1" y="922.0" text-anchor="middle" class="tk">0.9</text><text x="385.7" y="922.0" text-anchor="middle" class="tk">1.2</text></g>
<text x="2.2" y="519.8" class="lb">(<tspan class="it">d</tspan><tspan dx="1.5">)</tspan></text>
<g><text transform="translate(216.8 964.6) scale(1.050 1)" class="lb it">ρ</text><text x="233.9" y="965.9" class="lb">′</text><text x="231.8" y="969.4" class="sub">rms</text><text x="263.4" y="970.8" class="sl">/</text><text transform="translate(277.4 964.6) scale(1.050 1)" class="lb it">ρ</text><line x1="280.1" y1="946.3" x2="293.6" y2="946.3" class="bar"/><text x="322.6" y="955.2" class="ex">(</text><text x="330.4" y="959.4" class="tm">×</text><text x="354.3" y="955.2" class="ex">10</text><text x="379.8" y="946.0" class="sup2" textLength="11.2" lengthAdjust="spacingAndGlyphs">−</text><text x="391.6" y="946.0" class="sup2">1</text><text x="400.2" y="955.2" class="ex">)</text></g>
<g><line x1="578.10" y1="509.4" x2="578.10" y2="891.6" class="gr"/><line x1="642.60" y1="509.4" x2="642.60" y2="891.6" class="gr"/><line x1="707.10" y1="509.4" x2="707.10" y2="891.6" class="gr"/><line x1="771.60" y1="509.4" x2="771.60" y2="893.9" class="gr2"/><line x1="513.6" y1="547.62" x2="771.6" y2="547.62" class="gr"/><line x1="513.6" y1="585.84" x2="771.6" y2="585.84" class="gr"/><line x1="513.6" y1="624.06" x2="771.6" y2="624.06" class="gr"/><line x1="513.6" y1="662.28" x2="771.6" y2="662.28" class="gr"/><line x1="513.6" y1="700.50" x2="771.6" y2="700.50" class="gr"/><line x1="513.6" y1="738.72" x2="771.6" y2="738.72" class="gr"/><line x1="513.6" y1="776.94" x2="771.6" y2="776.94" class="gr"/><line x1="513.6" y1="815.16" x2="771.6" y2="815.16" class="gr"/><line x1="513.6" y1="853.38" x2="771.6" y2="853.38" class="gr"/><line x1="513.60" y1="891.6" x2="513.60" y2="894.1" class="tkm"/><line x1="578.10" y1="891.6" x2="578.10" y2="894.1" class="tkm"/><line x1="642.60" y1="891.6" x2="642.60" y2="894.1" class="tkm"/><line x1="707.10" y1="891.6" x2="707.10" y2="894.1" class="tkm"/><line x1="511.2" y1="509.40" x2="513.6" y2="509.40" class="tkm"/><line x1="511.2" y1="547.62" x2="513.6" y2="547.62" class="tkm"/><line x1="511.2" y1="585.84" x2="513.6" y2="585.84" class="tkm"/><line x1="511.2" y1="624.06" x2="513.6" y2="624.06" class="tkm"/><line x1="511.2" y1="662.28" x2="513.6" y2="662.28" class="tkm"/><line x1="511.2" y1="700.50" x2="513.6" y2="700.50" class="tkm"/><line x1="511.2" y1="738.72" x2="513.6" y2="738.72" class="tkm"/><line x1="511.2" y1="776.94" x2="513.6" y2="776.94" class="tkm"/><line x1="511.2" y1="815.16" x2="513.6" y2="815.16" class="tkm"/><line x1="511.2" y1="853.38" x2="513.6" y2="853.38" class="tkm"/><line x1="511.2" y1="891.60" x2="513.6" y2="891.60" class="tkm"/><line x1="513.60" y1="508.8" x2="513.60" y2="892.2" class="ax"/><line x1="513.6" y1="509.40" x2="771.6" y2="509.40" class="ax"/><line x1="513.6" y1="891.60" x2="771.6" y2="891.60" class="ax"/></g>
<g clip-path="url(#ce)"><path d="M513.6 509.5L516.9 509.5L524.1 509.6L531.5 509.6L538.9 509.6L546.6 509.7L554.2 509.7L562.0 509.8L569.8 509.8L577.7 509.9L585.5 509.9L593.5 510.0L601.3 510.1L609.2 510.1L616.9 510.2L624.4 510.2L631.8 510.3L638.8 510.4L645.7 510.4L652.6 510.5L659.4 510.6L666.2 510.7L672.9 510.7L679.5 510.8L685.9 510.9L692.1 511.0L697.9 511.1L703.2 511.2L708.0 511.3L712.5 511.4L716.9 511.5L721.4 511.6L726.0 511.7L730.5 511.8L735.0 511.9L739.3 512.0L743.3 512.2L747.0 512.3L750.3 512.4L752.9 512.6L754.8 512.7L755.7 512.8L755.6 513.0L754.3 513.1L752.0 513.3L749.0 513.5L745.4 513.6L741.6 513.8L738.0 514.0L735.0 514.2L732.2 514.4L729.4 514.6L726.5 514.8L723.3 515.0L719.8 515.2L716.0 515.4L712.3 515.6L708.9 515.9L705.5 516.1L701.4 516.4L696.1 516.6L689.3 516.9L681.7 517.2L673.9 517.5L666.8 517.8L660.5 518.1L654.9 518.4L650.6 518.7L646.9 519.0L643.2 519.4L639.5 519.7L635.7 520.1L632.1 520.5L628.5 520.9L625.0 521.3L621.6 521.7L618.3 522.1L614.9 522.5L611.6 523.0L608.6 523.4L605.9 523.9L603.6 524.4L601.3 524.9L599.2 525.4L597.3 526.0L595.4 526.5L593.7 527.1L591.9 527.7L590.1 528.3L588.3 528.9L586.6 529.6L584.9 530.2L583.2 530.9L581.5 531.6L580.0 532.3L578.5 533.0L577.0 533.8L575.7 534.6L574.5 535.4L573.4 536.2L572.4 537.1L571.5 537.9L570.6 538.8L569.7 539.7L568.8 540.7L567.9 541.7L567.1 542.6L566.4 543.7L565.8 544.7L565.2 545.8L564.6 546.9L564.1 548.0L563.7 549.2L563.2 550.4L562.8 551.6L562.5 552.9L562.2 554.2L562.0 555.5L561.8 556.8L561.7 558.2L561.5 559.6L561.4 561.1L561.4 562.6L561.3 564.1L561.3 565.7L561.3 567.2L561.3 568.9L561.3 570.5L561.4 572.2L561.5 574.0L561.6 575.7L561.7 577.6L561.9 579.4L562.1 581.3L562.3 583.2L562.5 585.2L562.8 587.2L563.2 589.2L563.6 591.3L564.1 593.4L564.6 595.6L565.2 597.8L565.8 600.0L566.4 602.3L567.1 604.6L567.7 606.9L568.2 609.3L568.7 611.7L569.2 614.2L569.6 616.7L570.0 619.2L570.4 621.8L570.8 624.4L571.3 627.0L571.7 629.7L572.1 632.3L572.5 635.1L572.9 637.8L573.3 640.6L573.6 643.4L573.9 646.3L574.2 649.1L574.4 652.0L574.6 654.9L574.7 657.9L574.8 660.8L574.8 663.8L574.8 666.8L574.7 669.8L574.6 672.8L574.5 675.9L574.3 678.9L574.1 682.0L573.9 685.0L573.6 688.1L573.4 691.2L573.1 694.3L572.8 697.4L572.5 700.5L572.1 703.6L571.6 706.7L571.0 709.8L570.4 712.9L569.8 716.0L569.1 719.0L568.5 722.1L567.9 725.1L567.3 728.2L566.8 731.2L566.2 734.2L565.7 737.2L565.2 740.2L564.7 743.1L564.3 746.1L563.8 749.0L563.4 751.9L563.0 754.7L562.7 757.6L562.3 760.4L562.1 763.2L561.8 765.9L561.6 768.7L561.4 771.3L561.2 774.0L561.0 776.6L560.8 779.2L560.6 781.8L560.4 784.3L560.3 786.8L560.2 789.3L560.1 791.7L560.0 794.1L560.0 796.4L560.0 798.7L560.0 801.0L560.1 803.2L560.2 805.4L560.2 807.6L560.3 809.7L560.4 811.8L560.6 813.8L560.7 815.8L560.9 817.8L561.0 819.7L561.2 821.6L561.4 823.4L561.7 825.3L561.9 827.0L562.2 828.8L562.5 830.5L562.8 832.1L563.2 833.8L563.5 835.3L563.9 836.9L564.3 838.4L564.8 839.9L565.2 841.4L565.7 842.8L566.2 844.2L566.8 845.5L567.3 846.8L567.9 848.1L568.6 849.4L569.2 850.6L569.9 851.8L570.5 853.0L571.2 854.1L572.0 855.2L572.8 856.3L573.6 857.3L574.4 858.4L575.4 859.3L576.4 860.3L577.5 861.3L578.6 862.2L579.7 863.1L580.9 863.9L582.2 864.8L583.5 865.6L584.8 866.4L586.2 867.2L587.6 868.0L589.2 868.7L590.8 869.4L592.5 870.1L594.2 870.8L595.9 871.4L597.4 872.1L599.0 872.7L600.7 873.3L602.6 873.9L605.3 874.5L607.9 875.0L610.2 875.6L612.4 876.1L614.5 876.6L616.7 877.1L619.0 877.6L621.2 878.0L623.4 878.5L625.8 878.9L628.2 879.3L630.8 879.7L633.6 880.1L636.6 880.5L639.5 880.9L642.4 881.3L645.3 881.6L648.2 882.0L651.1 882.3L654.0 882.6L656.9 882.9L659.8 883.2L662.6 883.5L665.3 883.8L668.0 884.1L670.6 884.4L673.2 884.6L675.6 884.9L678.0 885.1L680.3 885.4L682.5 885.6L684.6 885.8L686.6 886.0L688.5 886.2L690.2 886.4L691.8 886.6L693.4 886.8L695.0 887.0L696.6 887.2L697.9 887.4L698.6 887.5L698.5 887.7L697.4 887.9L695.7 888.0L693.4 888.2L690.8 888.3L688.0 888.4L685.0 888.6L682.1 888.7L679.0 888.8L675.1 889.0L670.6 889.1L666.1 889.2L662.2 889.3L659.1 889.4L656.3 889.5L653.3 889.6L649.5 889.7L644.5 889.8L638.7 889.9L633.0 890.0L627.7 890.1L622.4 890.2L617.1 890.3L612.0 890.3L607.1 890.4L602.3 890.5L597.5 890.6L592.7 890.6L587.8 890.7L582.6 890.8L577.3 890.8L571.8 890.9L566.0 890.9L560.1 891.0L552.8 891.1L545.3 891.1L536.7 891.2L528.2 891.2L520.0 891.3L514.7 891.3" class="dotted"/><path d="M513.6 509.5L515.0 509.5L518.1 509.6L521.2 509.6L524.6 509.6L528.0 509.7L531.6 509.7L535.3 509.8L539.0 509.8L542.8 509.9L546.5 509.9L550.3 510.0L553.9 510.1L557.5 510.1L560.8 510.2L563.7 510.2L566.4 510.3L568.5 510.4L570.3 510.4L571.9 510.5L573.5 510.6L575.2 510.7L576.9 510.7L578.6 510.8L580.3 510.9L582.0 511.0L583.7 511.1L585.5 511.2L587.2 511.3L589.0 511.4L590.7 511.5L592.4 511.6L594.1 511.7L595.8 511.8L597.5 511.9L599.2 512.0L600.8 512.2L602.3 512.3L603.8 512.4L605.3 512.6L606.6 512.7L607.9 512.8L609.1 513.0L610.2 513.1L611.1 513.3L611.9 513.5L612.6 513.6L613.1 513.8L613.3 514.0L613.4 514.2L613.0 514.4L612.1 514.6L610.8 514.8L609.2 515.0L607.3 515.2L605.3 515.4L603.4 515.6L601.8 515.9L600.4 516.1L598.9 516.4L597.4 516.6L595.9 516.9L594.4 517.2L592.8 517.5L591.3 517.8L589.8 518.1L588.3 518.4L586.7 518.7L585.2 519.0L583.6 519.4L582.1 519.7L580.5 520.1L579.0 520.5L577.5 520.9L576.0 521.3L574.4 521.7L572.9 522.1L571.4 522.5L569.9 523.0L568.5 523.4L567.1 523.9L565.7 524.4L564.3 524.9L562.9 525.4L561.6 526.0L560.4 526.5L559.1 527.1L557.9 527.7L556.7 528.3L555.6 528.9L554.5 529.6L553.4 530.2L552.4 530.9L551.4 531.6L550.4 532.3L549.4 533.0L548.6 533.8L547.7 534.6L547.0 535.4L546.3 536.2L545.6 537.1L545.0 537.9L544.4 538.8L543.8 539.7L543.3 540.7L542.8 541.7L542.4 542.6L541.9 543.7L541.5 544.7L541.1 545.8L540.7 546.9L540.3 548.0L540.0 549.2L539.7 550.4L539.3 551.6L539.1 552.9L538.8 554.2L538.6 555.5L538.3 556.8L538.1 558.2L538.0 559.6L537.8 561.1L537.6 562.6L537.5 564.1L537.4 565.7L537.3 567.2L537.2 568.9L537.2 570.5L537.1 572.2L537.1 574.0L537.1 575.7L537.2 577.6L537.2 579.4L537.3 581.3L537.4 583.2L537.5 585.2L537.6 587.2L537.8 589.2L537.9 591.3L538.1 593.4L538.2 595.6L538.4 597.8L538.5 600.0L538.7 602.3L538.8 604.6L539.0 606.9L539.2 609.3L539.4 611.7L539.6 614.2L539.8 616.7L540.0 619.2L540.2 621.8L540.4 624.4L540.6 627.0L540.8 629.7L541.0 632.3L541.2 635.1L541.4 637.8L541.6 640.6L541.8 643.4L542.0 646.3L542.2 649.1L542.4 652.0L542.5 654.9L542.6 657.9L542.7 660.8L542.8 663.8L542.8 666.8L542.8 669.8L542.8 672.8L542.8 675.9L542.8 678.9L542.8 682.0L542.7 685.0L542.6 688.1L542.5 691.2L542.4 694.3L542.3 697.4L542.2 700.5L542.0 703.6L541.9 706.7L541.7 709.8L541.5 712.9L541.3 716.0L541.1 719.0L540.8 722.1L540.5 725.1L540.2 728.2L540.0 731.2L539.7 734.2L539.4 737.2L539.1 740.2L538.9 743.1L538.6 746.1L538.4 749.0L538.1 751.9L537.9 754.7L537.7 757.6L537.5 760.4L537.3 763.2L537.1 765.9L537.0 768.7L536.8 771.3L536.7 774.0L536.6 776.6L536.4 779.2L536.3 781.8L536.2 784.3L536.1 786.8L536.1 789.3L536.0 791.7L536.0 794.1L535.9 796.4L535.9 798.7L535.9 801.0L535.9 803.2L535.8 805.4L535.8 807.6L535.8 809.7L535.8 811.8L535.7 813.8L535.7 815.8L535.8 817.8L535.8 819.7L535.8 821.6L535.9 823.4L536.0 825.3L536.0 827.0L536.1 828.8L536.3 830.5L536.4 832.1L536.6 833.8L536.8 835.3L537.0 836.9L537.3 838.4L537.5 839.9L537.8 841.4L538.0 842.8L538.3 844.2L538.6 845.5L538.9 846.8L539.2 848.1L539.5 849.4L539.8 850.6L540.2 851.8L540.5 853.0L540.8 854.1L541.1 855.2L541.5 856.3L541.8 857.3L542.2 858.4L542.6 859.3L543.0 860.3L543.4 861.3L543.8 862.2L544.3 863.1L544.8 863.9L545.3 864.8L545.9 865.6L546.4 866.4L547.0 867.2L547.6 868.0L548.2 868.7L548.8 869.4L549.4 870.1L550.1 870.8L550.8 871.4L551.6 872.1L552.3 872.7L553.1 873.3L553.9 873.9L554.7 874.5L555.5 875.0L556.3 875.6L557.2 876.1L558.0 876.6L558.9 877.1L559.8 877.6L560.8 878.0L561.8 878.5L562.8 878.9L563.8 879.3L564.9 879.7L566.0 880.1L567.2 880.5L568.5 880.9L569.8 881.3L571.2 881.6L572.6 882.0L574.0 882.3L575.3 882.6L576.7 882.9L578.1 883.2L579.5 883.5L580.9 883.8L582.4 884.1L583.9 884.4L585.4 884.6L587.0 884.9L588.7 885.1L590.3 885.4L592.0 885.6L593.7 885.8L595.4 886.0L597.2 886.2L599.2 886.4L601.4 886.6L603.6 886.8L605.6 887.0L607.4 887.2L608.8 887.4L609.7 887.5L610.2 887.7L610.6 887.9L610.9 888.0L611.0 888.2L611.1 888.3L610.9 888.4L609.9 888.6L608.2 888.7L606.0 888.8L603.4 889.0L600.4 889.1L597.2 889.2L593.9 889.3L590.4 889.4L586.9 889.5L583.4 889.6L580.0 889.7L576.6 889.8L573.4 889.9L570.2 890.0L567.2 890.1L564.4 890.2L561.5 890.3L558.6 890.3L555.6 890.4L552.6 890.5L549.5 890.6L546.5 890.6L543.5 890.7L540.4 890.8L537.4 890.8L534.5 890.9L531.6 890.9L528.7 891.0L525.9 891.1L523.1 891.1L520.4 891.2L517.9 891.2L515.5 891.3L513.9 891.3" class="dashed"/><path d="M513.6 509.5L514.2 509.5L515.4 509.6L516.7 509.6L518.0 509.6L519.4 509.7L520.7 509.7L522.1 509.8L523.6 509.8L525.0 509.9L526.5 509.9L528.0 510.0L529.5 510.1L531.0 510.1L532.5 510.2L534.0 510.2L535.6 510.3L537.1 510.4L538.6 510.4L540.0 510.5L541.5 510.6L542.9 510.7L544.3 510.7L545.8 510.8L547.4 510.9L549.0 511.0L550.7 511.1L552.4 511.2L554.1 511.3L555.7 511.4L557.3 511.5L558.9 511.6L560.3 511.7L561.5 511.8L562.5 511.9L563.2 512.0L563.6 512.2L563.6 512.3L563.6 512.4L563.4 512.6L563.1 512.7L562.8 512.8L562.3 513.0L561.8 513.1L561.3 513.3L560.6 513.5L559.9 513.6L559.2 513.8L558.4 514.0L557.7 514.2L556.9 514.4L556.2 514.6L555.6 514.8L554.9 515.0L554.3 515.2L553.6 515.4L552.9 515.6L552.3 515.9L551.5 516.1L550.8 516.4L550.1 516.6L549.4 516.9L548.7 517.2L548.0 517.5L547.3 517.8L546.6 518.1L545.9 518.4L545.2 518.7L544.5 519.0L543.8 519.4L543.1 519.7L542.4 520.1L541.8 520.5L541.1 520.9L540.5 521.3L539.9 521.7L539.3 522.1L538.7 522.5L538.1 523.0L537.5 523.4L536.9 523.9L536.4 524.4L535.9 524.9L535.5 525.4L535.0 526.0L534.6 526.5L534.2 527.1L533.9 527.7L533.5 528.3L533.1 528.9L532.8 529.6L532.4 530.2L532.1 530.9L531.8 531.6L531.4 532.3L531.1 533.0L530.8 533.8L530.5 534.6L530.2 535.4L530.0 536.2L529.7 537.1L529.5 537.9L529.3 538.8L529.0 539.7L528.8 540.7L528.6 541.7L528.4 542.6L528.3 543.7L528.1 544.7L527.9 545.8L527.7 546.9L527.6 548.0L527.4 549.2L527.3 550.4L527.2 551.6L527.1 552.9L527.0 554.2L526.9 555.5L526.8 556.8L526.7 558.2L526.7 559.6L526.6 561.1L526.5 562.6L526.4 564.1L526.4 565.7L526.3 567.2L526.2 568.9L526.2 570.5L526.2 572.2L526.2 574.0L526.2 575.7L526.2 577.6L526.2 579.4L526.2 581.3L526.2 583.2L526.2 585.2L526.2 587.2L526.3 589.2L526.4 591.3L526.5 593.4L526.5 595.6L526.7 597.8L526.8 600.0L526.9 602.3L527.0 604.6L527.1 606.9L527.3 609.3L527.4 611.7L527.5 614.2L527.6 616.7L527.7 619.2L527.8 621.8L527.9 624.4L528.0 627.0L528.1 629.7L528.2 632.3L528.3 635.1L528.4 637.8L528.5 640.6L528.6 643.4L528.7 646.3L528.8 649.1L528.9 652.0L529.0 654.9L529.2 657.9L529.3 660.8L529.4 663.8L529.5 666.8L529.6 669.8L529.7 672.8L529.8 675.9L529.9 678.9L530.0 682.0L530.1 685.0L530.2 688.1L530.2 691.2L530.3 694.3L530.3 697.4L530.3 700.5L530.2 703.6L530.1 706.7L529.9 709.8L529.7 712.9L529.5 716.0L529.3 719.0L529.2 722.1L529.0 725.1L528.8 728.2L528.6 731.2L528.4 734.2L528.3 737.2L528.1 740.2L527.9 743.1L527.8 746.1L527.6 749.0L527.5 751.9L527.4 754.7L527.3 757.6L527.2 760.4L527.1 763.2L527.0 765.9L527.0 768.7L526.9 771.3L526.9 774.0L526.8 776.6L526.8 779.2L526.8 781.8L526.7 784.3L526.7 786.8L526.6 789.3L526.6 791.7L526.6 794.1L526.5 796.4L526.4 798.7L526.4 801.0L526.3 803.2L526.3 805.4L526.3 807.6L526.2 809.7L526.2 811.8L526.2 813.8L526.2 815.8L526.2 817.8L526.2 819.7L526.2 821.6L526.3 823.4L526.3 825.3L526.4 827.0L526.4 828.8L526.5 830.5L526.5 832.1L526.6 833.8L526.7 835.3L526.8 836.9L526.9 838.4L527.0 839.9L527.1 841.4L527.2 842.8L527.3 844.2L527.4 845.5L527.6 846.8L527.7 848.1L527.9 849.4L528.0 850.6L528.2 851.8L528.3 853.0L528.5 854.1L528.7 855.2L528.9 856.3L529.1 857.3L529.3 858.4L529.6 859.3L529.8 860.3L530.0 861.3L530.3 862.2L530.5 863.1L530.8 863.9L531.0 864.8L531.3 865.6L531.6 866.4L531.9 867.2L532.2 868.0L532.5 868.7L532.8 869.4L533.1 870.1L533.5 870.8L533.9 871.4L534.3 872.1L534.7 872.7L535.1 873.3L535.6 873.9L536.0 874.5L536.5 875.0L537.0 875.6L537.4 876.1L537.9 876.6L538.4 877.1L538.9 877.6L539.5 878.0L540.0 878.5L540.6 878.9L541.2 879.3L541.8 879.7L542.4 880.1L543.0 880.5L543.6 880.9L544.3 881.3L544.9 881.6L545.6 882.0L546.2 882.3L546.9 882.6L547.6 882.9L548.4 883.2L549.1 883.5L549.9 883.8L550.7 884.1L551.4 884.4L552.2 884.6L553.0 884.9L553.8 885.1L554.6 885.4L555.5 885.6L556.5 885.8L557.6 886.0L558.8 886.2L560.0 886.4L561.2 886.6L562.3 886.8L563.3 887.0L564.3 887.2L565.1 887.4L565.7 887.5L566.3 887.7L566.7 887.9L566.9 888.0L567.0 888.2L566.9 888.3L566.4 888.4L565.6 888.6L564.5 888.7L563.2 888.8L561.8 889.0L560.2 889.1L558.6 889.2L556.9 889.3L555.1 889.4L553.4 889.5L551.6 889.6L549.9 889.7L548.2 889.8L546.6 889.9L545.0 890.0L543.4 890.1L542.0 890.2L540.4 890.3L538.9 890.3L537.3 890.4L535.6 890.5L533.9 890.6L532.2 890.6L530.5 890.7L528.8 890.8L527.1 890.8L525.4 890.9L523.8 890.9L522.2 891.0L520.6 891.1L519.0 891.1L517.5 891.2L516.0 891.2L514.7 891.3L513.8 891.3" class="solid"/><g class="bd"><circle cx="686.1" cy="884.0" r="3.3"/><circle cx="680.6" cy="882.6" r="3.3"/><circle cx="672.4" cy="881.1" r="3.3"/><circle cx="663.4" cy="879.4" r="3.3"/><circle cx="655.3" cy="877.6" r="3.3"/><circle cx="647.1" cy="875.6" r="3.3"/><circle cx="639.3" cy="873.4" r="3.3"/><circle cx="631.9" cy="871.1" r="3.3"/><circle cx="625.8" cy="868.6" r="3.3"/><circle cx="620.2" cy="865.8" r="3.3"/><circle cx="615.1" cy="862.9" r="3.3"/><circle cx="611.2" cy="859.7" r="3.3"/><circle cx="607.8" cy="856.2" r="3.3"/><circle cx="604.7" cy="852.5" r="3.3"/><circle cx="602.2" cy="848.5" r="3.3"/><circle cx="600.4" cy="844.2" r="3.3"/><circle cx="598.9" cy="839.7" r="3.3"/><circle cx="597.9" cy="834.8" r="3.3"/><circle cx="597.3" cy="829.6" r="3.3"/><circle cx="597.4" cy="824.0" r="3.3"/><circle cx="597.8" cy="818.1" r="3.3"/><circle cx="598.6" cy="811.9" r="3.3"/><circle cx="599.5" cy="805.4" r="3.3"/><circle cx="600.5" cy="798.5" r="3.3"/><circle cx="601.8" cy="791.3" r="3.3"/><circle cx="603.9" cy="783.7" r="3.3"/><circle cx="606.6" cy="775.9" r="3.3"/><circle cx="609.5" cy="767.8" r="3.3"/><circle cx="612.7" cy="759.4" r="3.3"/><circle cx="616.1" cy="750.8" r="3.3"/><circle cx="619.7" cy="741.9" r="3.3"/><circle cx="623.8" cy="732.9" r="3.3"/><circle cx="628.2" cy="723.8" r="3.3"/><circle cx="631.9" cy="714.6" r="3.3"/><circle cx="634.3" cy="705.2" r="3.3"/><circle cx="635.2" cy="695.8" r="3.3"/><circle cx="634.9" cy="686.4" r="3.3"/><circle cx="633.7" cy="677.2" r="3.3"/><circle cx="631.8" cy="668.1" r="3.3"/><circle cx="629.5" cy="659.1" r="3.3"/><circle cx="627.0" cy="650.2" r="3.3"/><circle cx="624.4" cy="641.6" r="3.3"/><circle cx="621.9" cy="633.2" r="3.3"/><circle cx="619.5" cy="625.1" r="3.3"/><circle cx="617.0" cy="617.3" r="3.3"/><circle cx="614.5" cy="609.7" r="3.3"/><circle cx="611.9" cy="602.5" r="3.3"/><circle cx="609.7" cy="595.6" r="3.3"/><circle cx="608.3" cy="589.1" r="3.3"/><circle cx="607.5" cy="582.9" r="3.3"/><circle cx="607.3" cy="577.0" r="3.3"/><circle cx="607.5" cy="571.4" r="3.3"/><circle cx="608.3" cy="566.2" r="3.3"/><circle cx="609.6" cy="561.3" r="3.3"/><circle cx="611.6" cy="556.8" r="3.3"/><circle cx="614.4" cy="552.5" r="3.3"/><circle cx="617.7" cy="548.5" r="3.3"/><circle cx="621.2" cy="544.8" r="3.3"/><circle cx="625.3" cy="541.3" r="3.3"/><circle cx="629.9" cy="538.1" r="3.3"/><circle cx="635.3" cy="535.2" r="3.3"/><circle cx="640.9" cy="532.4" r="3.3"/><circle cx="646.9" cy="529.9" r="3.3"/><circle cx="653.1" cy="527.6" r="3.3"/><circle cx="660.8" cy="525.4" r="3.3"/><circle cx="667.9" cy="523.4" r="3.3"/><circle cx="675.9" cy="521.6" r="3.3"/><circle cx="683.0" cy="519.9" r="3.3"/><circle cx="688.2" cy="518.4" r="3.3"/><circle cx="691.4" cy="517.0" r="3.3"/><circle cx="685.8" cy="514.7" r="3.3"/><circle cx="672.2" cy="513.6" r="3.3"/><circle cx="649.6" cy="512.4" r="3.3"/><circle cx="619.1" cy="511.3" r="3.3"/><circle cx="585.1" cy="510.6" r="3.3"/><circle cx="551.2" cy="510.2" r="3.3"/><circle cx="518.4" cy="509.7" r="3.3"/><circle cx="685.7" cy="886.5" r="3.3"/><circle cx="675.0" cy="887.3" r="3.3"/><circle cx="655.2" cy="888.4" r="3.3"/><circle cx="625.8" cy="889.3" r="3.3"/><circle cx="589.9" cy="890.0" r="3.3"/><circle cx="553.5" cy="890.6" r="3.3"/><circle cx="518.9" cy="891.2" r="3.3"/></g></g>
<g><circle cx="527.9" cy="744.8" r="6.9" class="mk"/><path d="M538.1 588.4 L545.6 603.0 L530.6 603.0 Z" class="mk"/><rect x="578.1" y="522.1" width="14.7" height="14.7" class="mk"/></g>
<g><text x="503.0" y="520.0" text-anchor="end" class="tk">1.0</text><text x="503.0" y="558.3" text-anchor="end" class="tk">0.8</text><text x="503.0" y="596.6" text-anchor="end" class="tk">0.6</text><text x="503.0" y="635.0" text-anchor="end" class="tk">0.4</text><text x="503.0" y="673.3" text-anchor="end" class="tk">0.2</text><text x="503.0" y="711.6" text-anchor="end" class="tk">0</text><text x="503.0" y="749.9" text-anchor="end" class="tk">0.2</text><text x="452.3" y="751.5" class="tk" textLength="18.8" lengthAdjust="spacingAndGlyphs">−</text><text x="503.0" y="788.2" text-anchor="end" class="tk">0.4</text><text x="452.3" y="789.8" class="tk" textLength="18.8" lengthAdjust="spacingAndGlyphs">−</text><text x="503.0" y="826.6" text-anchor="end" class="tk">0.6</text><text x="452.3" y="828.2" class="tk" textLength="18.8" lengthAdjust="spacingAndGlyphs">−</text><text x="503.0" y="864.9" text-anchor="end" class="tk">0.8</text><text x="452.3" y="866.5" class="tk" textLength="18.8" lengthAdjust="spacingAndGlyphs">−</text><text x="503.0" y="903.2" text-anchor="end" class="tk">1.0</text><text x="452.3" y="904.8" class="tk" textLength="18.8" lengthAdjust="spacingAndGlyphs">−</text><text x="513.6" y="922.0" text-anchor="middle" class="tk">0</text><text x="579.1" y="922.0" text-anchor="middle" class="tk">1.2</text><text x="642.3" y="922.0" text-anchor="middle" class="tk">2.4</text><text x="707.3" y="922.0" text-anchor="middle" class="tk">3.6</text><text x="771.6" y="922.0" text-anchor="middle" class="tk">4.8</text></g>
<text x="416.1" y="519.8" class="lb">(<tspan class="it">e</tspan><tspan dx="0.4">)</tspan></text>
<g><text x="600.2" y="965.8" class="lb it">T</text><text x="619.2" y="964.0" class="lb">′</text><text x="617.6" y="969.3" class="sub">rms</text><text x="649.3" y="971.0" class="sl">/</text><text x="661.4" y="965.8" class="lb it">T</text><line x1="664.7" y1="942.0" x2="678.0" y2="942.0" class="bar"/><text x="701.5" y="951.8" class="ex">(</text><text x="709.6" y="955.6" class="tm">×</text><text x="733.4" y="951.8" class="ex">10</text><text x="759.0" y="942.4" class="sup2" textLength="11.2" lengthAdjust="spacingAndGlyphs">−</text><text x="770.6" y="942.4" class="sup2">3</text><text x="779.3" y="951.8" class="ex">)</text></g>
<g><line x1="973.50" y1="509.4" x2="973.50" y2="891.6" class="gr"/><line x1="1038.00" y1="509.4" x2="1038.00" y2="891.6" class="gr"/><line x1="1102.50" y1="509.4" x2="1102.50" y2="891.6" class="gr"/><line x1="1167.00" y1="509.4" x2="1167.00" y2="893.9" class="gr2"/><line x1="909.0" y1="547.62" x2="1167.0" y2="547.62" class="gr"/><line x1="909.0" y1="585.84" x2="1167.0" y2="585.84" class="gr"/><line x1="909.0" y1="624.06" x2="1167.0" y2="624.06" class="gr"/><line x1="909.0" y1="662.28" x2="1167.0" y2="662.28" class="gr"/><line x1="909.0" y1="700.50" x2="1167.0" y2="700.50" class="gr"/><line x1="909.0" y1="738.72" x2="1167.0" y2="738.72" class="gr"/><line x1="909.0" y1="776.94" x2="1167.0" y2="776.94" class="gr"/><line x1="909.0" y1="815.16" x2="1167.0" y2="815.16" class="gr"/><line x1="909.0" y1="853.38" x2="1167.0" y2="853.38" class="gr"/><line x1="909.00" y1="891.6" x2="909.00" y2="894.1" class="tkm"/><line x1="973.50" y1="891.6" x2="973.50" y2="894.1" class="tkm"/><line x1="1038.00" y1="891.6" x2="1038.00" y2="894.1" class="tkm"/><line x1="1102.50" y1="891.6" x2="1102.50" y2="894.1" class="tkm"/><line x1="906.6" y1="509.40" x2="909.0" y2="509.40" class="tkm"/><line x1="906.6" y1="547.62" x2="909.0" y2="547.62" class="tkm"/><line x1="906.6" y1="585.84" x2="909.0" y2="585.84" class="tkm"/><line x1="906.6" y1="624.06" x2="909.0" y2="624.06" class="tkm"/><line x1="906.6" y1="662.28" x2="909.0" y2="662.28" class="tkm"/><line x1="906.6" y1="700.50" x2="909.0" y2="700.50" class="tkm"/><line x1="906.6" y1="738.72" x2="909.0" y2="738.72" class="tkm"/><line x1="906.6" y1="776.94" x2="909.0" y2="776.94" class="tkm"/><line x1="906.6" y1="815.16" x2="909.0" y2="815.16" class="tkm"/><line x1="906.6" y1="853.38" x2="909.0" y2="853.38" class="tkm"/><line x1="906.6" y1="891.60" x2="909.0" y2="891.60" class="tkm"/><line x1="909.00" y1="508.8" x2="909.00" y2="892.2" class="ax"/><line x1="909.0" y1="509.40" x2="1167.0" y2="509.40" class="ax"/><line x1="909.0" y1="891.60" x2="1167.0" y2="891.60" class="ax"/></g>
<g clip-path="url(#cf)"><path d="M1071.7 512.2L1071.8 512.3L1071.8 512.4L1071.9 512.6L1072.0 512.7L1072.1 512.8L1072.1 513.0L1072.2 513.1L1072.3 513.3L1072.4 513.5L1072.5 513.6L1072.5 513.8L1072.6 514.0L1072.7 514.2L1072.8 514.4L1072.9 514.6L1073.0 514.8L1073.1 515.0L1073.2 515.2L1073.3 515.4L1073.4 515.6L1073.5 515.9L1073.6 516.1L1073.8 516.4L1073.9 516.6L1074.0 516.9L1074.1 517.2L1074.2 517.5L1074.3 517.8L1074.4 518.1L1074.6 518.4L1074.7 518.7L1074.8 519.0L1074.9 519.4L1075.1 519.7L1075.2 520.1L1075.4 520.5L1075.5 520.9L1075.7 521.3L1075.9 521.7L1076.0 522.1L1076.2 522.5L1076.4 523.0L1076.6 523.4L1076.7 523.9L1076.9 524.4L1077.1 524.9L1077.2 525.4L1077.4 526.0L1077.5 526.5L1077.6 527.1L1077.7 527.7L1077.8 528.3L1077.8 528.9L1077.8 529.6L1077.8 530.2L1077.8 530.9L1077.7 531.6L1077.5 532.3L1077.4 533.0L1077.2 533.8L1077.0 534.6L1076.8 535.4L1076.5 536.2L1076.2 537.1L1076.0 537.9L1075.7 538.8L1075.4 539.7L1075.1 540.7L1074.9 541.7L1074.6 542.6L1074.3 543.7L1074.0 544.7L1073.7 545.8L1073.3 546.9L1073.0 548.0L1072.6 549.2L1072.2 550.4L1071.9 551.6L1071.5 552.9L1071.0 554.2L1070.6 555.5L1070.2 556.8L1069.7 558.2L1069.2 559.6L1068.7 561.1L1068.2 562.6L1067.7 564.1L1067.2 565.7L1066.7 567.2L1066.1 568.9L1065.5 570.5L1065.0 572.2L1064.4 574.0L1063.9 575.7L1063.3 577.6L1062.7 579.4L1062.2 581.3L1061.7 583.2L1061.1 585.2L1060.6 587.2L1060.1 589.2L1059.6 591.3L1059.1 593.4L1058.6 595.6L1058.1 597.8L1057.6 600.0L1057.1 602.3L1056.6 604.6L1056.1 606.9L1055.6 609.3L1055.2 611.7L1054.7 614.2L1054.3 616.7L1054.0 619.2L1053.6 621.8L1053.3 624.4L1053.0 627.0L1052.8 629.7L1052.5 632.3L1052.3 635.1L1052.2 637.8L1052.0 640.6L1051.9 643.4L1051.8 646.3L1051.7 649.1L1051.6 652.0L1051.5 654.9L1051.5 657.9L1051.5 660.8L1051.5 663.8L1051.6 666.8L1051.7 669.8L1051.8 672.8L1052.0 675.9L1052.2 678.9L1052.5 682.0L1052.8 685.0L1053.2 688.1L1053.7 691.2L1054.2 694.3L1054.7 697.4L1055.3 700.5L1055.9 703.6L1056.4 706.7L1057.0 709.8L1057.6 712.9L1058.2 716.0L1058.8 719.0L1059.4 722.1L1060.1 725.1L1060.7 728.2L1061.4 731.2L1062.2 734.2L1062.9 737.2L1063.7 740.2L1064.5 743.1L1065.4 746.1L1066.3 749.0L1067.1 751.9L1068.0 754.7L1068.9 757.6L1069.9 760.4L1070.8 763.2L1071.7 765.9L1072.6 768.7L1073.4 771.3L1074.3 774.0L1075.2 776.6L1076.0 779.2L1076.9 781.8L1077.7 784.3L1078.6 786.8L1079.4 789.3L1080.3 791.7L1081.2 794.1L1082.0 796.4L1082.9 798.7L1083.8 801.0L1084.7 803.2L1085.6 805.4L1086.5 807.6L1087.5 809.7L1088.4 811.8L1089.3 813.8L1090.3 815.8L1091.2 817.8L1092.2 819.7L1093.1 821.6L1094.1 823.4L1095.1 825.3L1096.0 827.0L1097.0 828.8L1097.9 830.5L1098.9 832.1L1099.8 833.8L1100.7 835.3L1101.6 836.9L1102.5 838.4L1103.3 839.9L1104.1 841.4L1104.9 842.8L1105.8 844.2L1106.7 845.5L1107.7 846.8L1108.6 848.1L1109.5 849.4L1110.3 850.6L1111.0 851.8L1111.8 853.0L1112.6 854.1L1113.5 855.2L1114.3 856.3L1115.1 857.3L1115.8 858.4L1116.4 859.3L1117.1 860.3L1117.7 861.3L1118.2 862.2L1118.6 863.1L1119.0 863.9L1119.3 864.8L1119.6 865.6L1119.9 866.4L1120.1 867.2L1120.3 868.0L1120.3 868.7L1120.3 869.4L1120.3 870.1L1120.3 870.8L1120.2 871.4L1120.2 872.1L1120.1 872.7L1120.1 873.3L1120.0 873.9L1120.0 874.5L1119.9 875.0L1119.7 875.6L1119.4 876.1L1119.0 876.6L1118.7 877.1L1118.3 877.6L1117.9 878.0L1117.5 878.5L1117.1 878.9L1116.8 879.3L1116.4 879.7L1116.0 880.1L1115.6 880.5L1115.1 880.9L1114.7 881.3L1114.3 881.6L1113.8 882.0L1113.4 882.3L1113.0 882.6L1112.5 882.9L1112.1 883.2L1111.7 883.5L1111.3 883.8L1110.9 884.1L1110.5 884.4L1110.1 884.6L1109.7 884.9L1109.3 885.1L1109.0 885.4L1108.6 885.6L1108.3 885.8L1108.0 886.0L1107.7 886.2L1107.5 886.4L1107.3 886.6L1107.0 886.8L1106.8 887.0L1106.6 887.2L1106.4 887.4L1106.3 887.5L1106.1 887.7L1105.9 887.9L1105.8 888.0L1105.6 888.2L1105.5 888.3L1105.3 888.4L1105.2 888.6L1105.1 888.7L1105.0 888.8L1104.8 889.0L1104.7 889.1L1104.6 889.2L1104.5 889.3L1104.4 889.4L1104.3 889.5L1104.2 889.6L1104.2 889.7L1104.1 889.8L1104.0 889.9L1103.9 890.0L1103.9 890.1L1103.8 890.2L1103.7 890.3L1103.7 890.3L1103.6 890.4L1103.5 890.5L1103.5 890.6L1103.4 890.6L1103.4 890.7L1103.3 890.8L1103.3 890.8L1103.3 890.9L1103.2 890.9L1103.2 891.0L1103.1 891.1L1103.1 891.1L1103.1 891.2L1103.0 891.2L1103.0 891.3L1103.0 891.3L1102.9 891.4L1102.9 891.4L1102.9 891.4L1102.9 891.5L1102.8 891.5L1102.8 891.6L1102.8 891.6L1102.8 891.6" class="dotted"/><path d="M1004.6 509.5L1004.6 509.5L1004.7 509.6L1004.7 509.6L1004.8 509.6L1004.8 509.7L1004.9 509.7L1004.9 509.8L1005.0 509.8L1005.1 509.9L1005.1 509.9L1005.2 510.0L1005.3 510.1L1005.4 510.1L1005.4 510.2L1005.5 510.2L1005.6 510.3L1005.7 510.4L1005.8 510.4L1005.9 510.5L1005.9 510.6L1006.0 510.7L1006.1 510.7L1006.2 510.8L1006.3 510.9L1006.5 511.0L1006.6 511.1L1006.7 511.2L1006.8 511.3L1006.9 511.4L1007.0 511.5L1007.2 511.6L1007.3 511.7L1007.4 511.8L1007.6 511.9L1007.7 512.0L1007.9 512.2L1008.0 512.3L1008.2 512.4L1008.4 512.6L1008.5 512.7L1008.7 512.8L1008.9 513.0L1009.1 513.1L1009.2 513.3L1009.4 513.5L1009.6 513.6L1009.9 513.8L1010.1 514.0L1010.3 514.2L1010.5 514.4L1010.7 514.6L1011.0 514.8L1011.2 515.0L1011.5 515.2L1011.8 515.4L1012.1 515.6L1012.4 515.9L1012.7 516.1L1013.0 516.4L1013.4 516.6L1013.7 516.9L1014.1 517.2L1014.5 517.5L1014.8 517.8L1015.2 518.1L1015.5 518.4L1015.9 518.7L1016.2 519.0L1016.6 519.4L1016.8 519.7L1017.1 520.1L1017.3 520.5L1017.5 520.9L1017.7 521.3L1017.9 521.7L1018.1 522.1L1018.3 522.5L1018.5 523.0L1018.7 523.4L1018.9 523.9L1019.0 524.4L1019.2 524.9L1019.3 525.4L1019.4 526.0L1019.5 526.5L1019.5 527.1L1019.5 527.7L1019.4 528.3L1019.4 528.9L1019.3 529.6L1019.1 530.2L1019.0 530.9L1018.8 531.6L1018.6 532.3L1018.4 533.0L1018.2 533.8L1018.0 534.6L1017.7 535.4L1017.4 536.2L1017.1 537.1L1016.7 537.9L1016.3 538.8L1015.9 539.7L1015.4 540.7L1014.9 541.7L1014.5 542.6L1013.9 543.7L1013.4 544.7L1012.8 545.8L1012.2 546.9L1011.5 548.0L1010.8 549.2L1010.1 550.4L1009.3 551.6L1008.6 552.9L1007.8 554.2L1007.0 555.5L1006.1 556.8L1005.3 558.2L1004.4 559.6L1003.5 561.1L1002.5 562.6L1001.5 564.1L1000.5 565.7L999.5 567.2L998.5 568.9L997.4 570.5L996.3 572.2L995.2 574.0L994.1 575.7L993.0 577.6L991.9 579.4L990.8 581.3L989.7 583.2L988.6 585.2L987.5 587.2L986.4 589.2L985.3 591.3L984.2 593.4L983.1 595.6L981.9 597.8L980.7 600.0L979.6 602.3L978.4 604.6L977.3 606.9L976.1 609.3L975.0 611.7L974.0 614.2L972.9 616.7L971.9 619.2L970.9 621.8L969.9 624.4L968.9 627.0L968.0 629.7L967.2 632.3L966.3 635.1L965.6 637.8L964.8 640.6L964.1 643.4L963.5 646.3L962.9 649.1L962.4 652.0L962.0 654.9L961.6 657.9L961.2 660.8L960.9 663.8L960.7 666.8L960.6 669.8L960.5 672.8L960.5 675.9L960.6 678.9L960.8 682.0L961.1 685.0L961.5 688.1L962.0 691.2L962.6 694.3L963.3 697.4L964.1 700.5L965.0 703.6L966.0 706.7L967.1 709.8L968.2 712.9L969.3 716.0L970.4 719.0L971.6 722.1L972.8 725.1L974.0 728.2L975.2 731.2L976.4 734.2L977.7 737.2L979.0 740.2L980.3 743.1L981.7 746.1L983.0 749.0L984.3 751.9L985.6 754.7L986.9 757.6L988.2 760.4L989.5 763.2L990.7 765.9L992.0 768.7L993.3 771.3L994.5 774.0L995.8 776.6L997.0 779.2L998.2 781.8L999.3 784.3L1000.4 786.8L1001.5 789.3L1002.5 791.7L1003.5 794.1L1004.6 796.4L1005.8 798.7L1006.9 801.0L1008.1 803.2L1009.4 805.4L1010.6 807.6L1011.9 809.7L1013.1 811.8L1014.4 813.8L1015.7 815.8L1017.0 817.8L1018.2 819.7L1019.5 821.6L1020.8 823.4L1022.1 825.3L1023.4 827.0L1024.6 828.8L1025.9 830.5L1027.2 832.1L1028.4 833.8L1029.7 835.3L1030.9 836.9L1032.1 838.4L1033.3 839.9L1034.5 841.4L1035.6 842.8L1036.7 844.2L1037.8 845.5L1038.9 846.8L1039.9 848.1L1041.0 849.4L1042.0 850.6L1043.0 851.8L1044.0 853.0L1044.9 854.1L1045.9 855.2L1046.8 856.3L1047.7 857.3L1048.6 858.4L1049.4 859.3L1050.3 860.3L1051.1 861.3L1051.9 862.2L1052.6 863.1L1053.3 863.9L1053.9 864.8L1054.6 865.6L1055.2 866.4L1055.8 867.2L1056.3 868.0L1056.7 868.7L1056.9 869.4L1056.9 870.1L1057.0 870.8L1057.1 871.4L1057.1 872.1L1057.1 872.7L1057.1 873.3L1057.0 873.9L1056.8 874.5L1056.5 875.0L1056.2 875.6L1055.8 876.1L1055.5 876.6L1055.1 877.1L1054.8 877.6L1054.4 878.0L1054.0 878.5L1053.6 878.9L1053.1 879.3L1052.6 879.7L1052.1 880.1L1051.6 880.5L1051.1 880.9L1050.6 881.3L1050.1 881.6L1049.6 882.0L1049.0 882.3L1048.3 882.6L1047.7 882.9L1047.1 883.2L1046.4 883.5L1045.8 883.8L1045.2 884.1L1044.6 884.4L1044.1 884.6L1043.5 884.9L1043.0 885.1L1042.5 885.4L1042.0 885.6L1041.5 885.8L1041.0 886.0L1040.5 886.2L1040.1 886.4L1039.6 886.6L1039.3 886.8L1038.9 887.0L1038.6 887.2L1038.3 887.4L1038.1 887.5L1037.9 887.7L1037.7 887.9L1037.6 888.0L1037.4 888.2L1037.2 888.3L1037.1 888.4L1037.0 888.6L1036.8 888.7L1036.7 888.8L1036.6 889.0L1036.5 889.1L1036.4 889.2L1036.3 889.3L1036.2 889.4L1036.1 889.5L1036.0 889.6L1035.9 889.7L1035.8 889.8L1035.8 889.9L1035.7 890.0L1035.6 890.1L1035.6 890.2L1035.5 890.3L1035.5 890.3L1035.4 890.4L1035.4 890.5L1035.4 890.6L1035.3 890.6L1035.3 890.7L1035.3 890.8L1035.3 890.8L1035.2 890.9L1035.2 890.9L1035.2 891.0L1035.2 891.1L1035.2 891.1L1035.2 891.2L1035.1 891.2L1035.1 891.3L1035.1 891.3L1035.1 891.4L1035.1 891.4L1035.1 891.4L1035.1 891.5L1035.1 891.5L1035.1 891.6L1035.1 891.6L1035.1 891.6" class="dashed"/><path d="M1005.0 509.5L1005.1 509.5L1005.1 509.6L1005.2 509.6L1005.2 509.6L1005.3 509.7L1005.4 509.7L1005.4 509.8L1005.5 509.8L1005.6 509.9L1005.6 509.9L1005.7 510.0L1005.8 510.1L1005.9 510.1L1005.9 510.2L1006.0 510.2L1006.1 510.3L1006.2 510.4L1006.3 510.4L1006.4 510.5L1006.5 510.6L1006.6 510.7L1006.7 510.7L1006.8 510.8L1006.9 510.9L1007.0 511.0L1007.2 511.1L1007.3 511.2L1007.4 511.3L1007.5 511.4L1007.7 511.5L1007.8 511.6L1007.9 511.7L1008.1 511.8L1008.2 511.9L1008.4 512.0L1008.6 512.2L1008.7 512.3L1008.9 512.4L1009.1 512.6L1009.3 512.7L1009.4 512.8L1009.6 513.0L1009.8 513.1L1010.0 513.3L1010.2 513.5L1010.5 513.6L1010.7 513.8L1010.9 514.0L1011.1 514.2L1011.4 514.4L1011.6 514.6L1011.9 514.8L1012.2 515.0L1012.4 515.2L1012.7 515.4L1013.0 515.6L1013.4 515.9L1013.7 516.1L1014.1 516.4L1014.4 516.6L1014.8 516.9L1015.2 517.2L1015.6 517.5L1016.0 517.8L1016.4 518.1L1016.7 518.4L1017.1 518.7L1017.5 519.0L1017.8 519.4L1018.1 519.7L1018.4 520.1L1018.7 520.5L1018.9 520.9L1019.1 521.3L1019.4 521.7L1019.6 522.1L1019.9 522.5L1020.1 523.0L1020.3 523.4L1020.5 523.9L1020.7 524.4L1020.9 524.9L1021.1 525.4L1021.2 526.0L1021.3 526.5L1021.3 527.1L1021.3 527.7L1021.2 528.3L1021.1 528.9L1021.0 529.6L1020.9 530.2L1020.7 530.9L1020.5 531.6L1020.2 532.3L1020.0 533.0L1019.8 533.8L1019.5 534.6L1019.2 535.4L1018.8 536.2L1018.4 537.1L1018.0 537.9L1017.5 538.8L1017.0 539.7L1016.5 540.7L1015.9 541.7L1015.4 542.6L1014.8 543.7L1014.2 544.7L1013.5 545.8L1012.8 546.9L1012.1 548.0L1011.4 549.2L1010.6 550.4L1009.8 551.6L1009.0 552.9L1008.1 554.2L1007.3 555.5L1006.4 556.8L1005.4 558.2L1004.5 559.6L1003.5 561.1L1002.5 562.6L1001.5 564.1L1000.5 565.7L999.4 567.2L998.3 568.9L997.2 570.5L996.0 572.2L994.8 574.0L993.6 575.7L992.3 577.6L991.1 579.4L989.8 581.3L988.6 583.2L987.3 585.2L986.1 587.2L984.8 589.2L983.5 591.3L982.3 593.4L981.0 595.6L979.8 597.8L978.6 600.0L977.3 602.3L976.1 604.6L974.8 606.9L973.6 609.3L972.4 611.7L971.1 614.2L969.9 616.7L968.6 619.2L967.4 621.8L966.2 624.4L964.9 627.0L963.7 629.7L962.5 632.3L961.3 635.1L960.2 637.8L959.0 640.6L957.9 643.4L956.9 646.3L955.9 649.1L954.9 652.0L954.0 654.9L953.1 657.9L952.4 660.8L951.7 663.8L951.0 666.8L950.5 669.8L950.1 672.8L949.7 675.9L949.5 678.9L949.4 682.0L949.4 685.0L949.6 688.1L949.9 691.2L950.5 694.3L951.2 697.4L952.1 700.5L953.0 703.6L954.1 706.7L955.2 709.8L956.3 712.9L957.4 716.0L958.5 719.0L959.6 722.1L960.7 725.1L961.8 728.2L962.8 731.2L963.9 734.2L965.0 737.2L966.1 740.2L967.2 743.1L968.3 746.1L969.5 749.0L970.6 751.9L971.8 754.7L973.1 757.6L974.3 760.4L975.6 763.2L976.9 765.9L978.2 768.7L979.5 771.3L980.8 774.0L982.1 776.6L983.4 779.2L984.7 781.8L985.9 784.3L987.2 786.8L988.4 789.3L989.6 791.7L990.8 794.1L992.0 796.4L993.2 798.7L994.4 801.0L995.6 803.2L996.9 805.4L998.1 807.6L999.3 809.7L1000.5 811.8L1001.7 813.8L1002.9 815.8L1004.1 817.8L1005.3 819.7L1006.5 821.6L1007.7 823.4L1008.9 825.3L1010.2 827.0L1011.4 828.8L1012.7 830.5L1013.9 832.1L1015.2 833.8L1016.4 835.3L1017.6 836.9L1018.8 838.4L1020.0 839.9L1021.2 841.4L1022.3 842.8L1023.4 844.2L1024.4 845.5L1025.3 846.8L1026.3 848.1L1027.2 849.4L1028.1 850.6L1029.0 851.8L1029.9 853.0L1030.9 854.1L1031.8 855.2L1032.6 856.3L1033.5 857.3L1034.3 858.4L1035.1 859.3L1035.8 860.3L1036.6 861.3L1037.4 862.2L1038.1 863.1L1038.8 863.9L1039.4 864.8L1039.9 865.6L1040.3 866.4L1040.7 867.2L1041.1 868.0L1041.4 868.7L1041.7 869.4L1041.9 870.1L1042.1 870.8L1042.2 871.4L1042.2 872.1L1042.2 872.7L1042.1 873.3L1041.9 873.9L1041.8 874.5L1041.6 875.0L1041.3 875.6L1041.1 876.1L1040.9 876.6L1040.7 877.1L1040.4 877.6L1040.0 878.0L1039.5 878.5L1039.0 878.9L1038.4 879.3L1037.9 879.7L1037.3 880.1L1036.7 880.5L1036.2 880.9L1035.6 881.3L1035.1 881.6L1034.5 882.0L1033.9 882.3L1033.3 882.6L1032.7 882.9L1032.1 883.2L1031.5 883.5L1030.9 883.8L1030.4 884.1L1029.9 884.4L1029.3 884.6L1028.8 884.9L1028.2 885.1L1027.7 885.4L1027.2 885.6L1026.7 885.8L1026.2 886.0L1025.8 886.2L1025.4 886.4L1025.1 886.6L1024.8 886.8L1024.5 887.0L1024.3 887.2L1024.1 887.4L1024.0 887.5L1023.8 887.7L1023.7 887.9L1023.5 888.0L1023.4 888.2L1023.2 888.3L1023.1 888.4L1023.0 888.6L1022.9 888.7L1022.8 888.8L1022.7 889.0L1022.6 889.1L1022.5 889.2L1022.4 889.3L1022.3 889.4L1022.3 889.5L1022.2 889.6L1022.1 889.7L1022.1 889.8L1022.0 889.9L1022.0 890.0L1021.9 890.1L1021.9 890.2L1021.8 890.3L1021.8 890.3L1021.8 890.4L1021.7 890.5L1021.7 890.6L1021.7 890.6L1021.7 890.7L1021.6 890.8L1021.6 890.8L1021.6 890.9L1021.6 890.9L1021.6 891.0L1021.6 891.1L1021.5 891.1L1021.5 891.2L1021.5 891.2L1021.5 891.3L1021.5 891.3L1021.5 891.4L1021.5 891.4L1021.5 891.4L1021.5 891.5L1021.5 891.5L1021.5 891.6L1021.5 891.6L1021.5 891.6" class="solid"/><g class="bd"><circle cx="983.7" cy="891.0" r="3.3"/><circle cx="984.3" cy="890.3" r="3.3"/><circle cx="985.0" cy="889.4" r="3.3"/><circle cx="985.7" cy="888.5" r="3.3"/><circle cx="986.5" cy="887.5" r="3.3"/><circle cx="987.4" cy="886.5" r="3.3"/><circle cx="988.3" cy="885.3" r="3.3"/><circle cx="989.4" cy="884.0" r="3.3"/><circle cx="990.4" cy="882.6" r="3.3"/><circle cx="991.4" cy="881.1" r="3.3"/><circle cx="992.5" cy="879.4" r="3.3"/><circle cx="993.5" cy="877.6" r="3.3"/><circle cx="994.3" cy="875.6" r="3.3"/><circle cx="994.8" cy="873.4" r="3.3"/><circle cx="995.3" cy="871.1" r="3.3"/><circle cx="995.5" cy="868.6" r="3.3"/><circle cx="995.4" cy="865.8" r="3.3"/><circle cx="994.9" cy="862.9" r="3.3"/><circle cx="994.2" cy="859.7" r="3.3"/><circle cx="993.3" cy="856.2" r="3.3"/><circle cx="992.3" cy="852.5" r="3.3"/><circle cx="991.0" cy="848.5" r="3.3"/><circle cx="989.5" cy="844.2" r="3.3"/><circle cx="987.6" cy="839.7" r="3.3"/><circle cx="985.6" cy="834.8" r="3.3"/><circle cx="983.6" cy="829.6" r="3.3"/><circle cx="981.5" cy="824.0" r="3.3"/><circle cx="979.4" cy="818.1" r="3.3"/><circle cx="977.3" cy="811.9" r="3.3"/><circle cx="975.1" cy="805.4" r="3.3"/><circle cx="972.9" cy="798.5" r="3.3"/><circle cx="970.6" cy="791.3" r="3.3"/><circle cx="968.4" cy="783.7" r="3.3"/><circle cx="966.1" cy="775.9" r="3.3"/><circle cx="963.8" cy="767.8" r="3.3"/><circle cx="961.5" cy="759.4" r="3.3"/><circle cx="959.2" cy="750.8" r="3.3"/><circle cx="957.1" cy="741.9" r="3.3"/><circle cx="955.0" cy="732.9" r="3.3"/><circle cx="953.1" cy="723.8" r="3.3"/><circle cx="951.4" cy="714.6" r="3.3"/><circle cx="950.3" cy="705.2" r="3.3"/><circle cx="949.7" cy="695.8" r="3.3"/><circle cx="949.5" cy="686.4" r="3.3"/><circle cx="949.7" cy="677.2" r="3.3"/><circle cx="950.4" cy="668.1" r="3.3"/><circle cx="951.3" cy="659.1" r="3.3"/><circle cx="952.7" cy="650.2" r="3.3"/><circle cx="954.1" cy="641.6" r="3.3"/><circle cx="955.5" cy="633.2" r="3.3"/><circle cx="956.9" cy="625.1" r="3.3"/><circle cx="958.5" cy="617.3" r="3.3"/><circle cx="960.2" cy="609.7" r="3.3"/><circle cx="962.0" cy="602.5" r="3.3"/><circle cx="963.9" cy="595.6" r="3.3"/><circle cx="965.9" cy="589.1" r="3.3"/><circle cx="968.0" cy="582.9" r="3.3"/><circle cx="969.9" cy="577.0" r="3.3"/><circle cx="971.8" cy="571.4" r="3.3"/><circle cx="973.6" cy="566.2" r="3.3"/><circle cx="975.2" cy="561.3" r="3.3"/><circle cx="976.7" cy="556.8" r="3.3"/><circle cx="978.1" cy="552.5" r="3.3"/><circle cx="979.4" cy="548.5" r="3.3"/><circle cx="980.5" cy="544.8" r="3.3"/><circle cx="981.5" cy="541.3" r="3.3"/><circle cx="982.3" cy="538.1" r="3.3"/><circle cx="983.1" cy="535.2" r="3.3"/><circle cx="983.5" cy="532.4" r="3.3"/><circle cx="983.5" cy="529.9" r="3.3"/><circle cx="983.3" cy="527.6" r="3.3"/><circle cx="982.9" cy="525.4" r="3.3"/><circle cx="982.5" cy="523.4" r="3.3"/><circle cx="981.7" cy="521.6" r="3.3"/><circle cx="980.8" cy="519.9" r="3.3"/><circle cx="979.9" cy="518.4" r="3.3"/><circle cx="979.0" cy="517.0" r="3.3"/><circle cx="978.2" cy="515.7" r="3.3"/><circle cx="977.4" cy="514.5" r="3.3"/><circle cx="976.6" cy="513.5" r="3.3"/><circle cx="975.9" cy="512.5" r="3.3"/><circle cx="975.1" cy="511.6" r="3.3"/><circle cx="974.4" cy="510.7" r="3.3"/><circle cx="973.8" cy="510.0" r="3.3"/></g></g>
<g><circle cx="967.3" cy="744.8" r="6.9" class="mk"/><path d="M984.2 588.4 L991.7 603.0 L976.7 603.0 Z" class="mk"/><rect x="1070.4" y="522.1" width="14.7" height="14.7" class="mk"/></g>
<g><text x="896.7" y="520.0" text-anchor="end" class="tk">1.0</text><text x="896.7" y="558.3" text-anchor="end" class="tk">0.8</text><text x="896.7" y="596.6" text-anchor="end" class="tk">0.6</text><text x="896.7" y="635.0" text-anchor="end" class="tk">0.4</text><text x="896.7" y="673.3" text-anchor="end" class="tk">0.2</text><text x="896.7" y="711.6" text-anchor="end" class="tk">0</text><text x="896.7" y="749.9" text-anchor="end" class="tk">0.2</text><text x="846.0" y="751.5" class="tk" textLength="18.8" lengthAdjust="spacingAndGlyphs">−</text><text x="896.7" y="788.2" text-anchor="end" class="tk">0.4</text><text x="846.0" y="789.8" class="tk" textLength="18.8" lengthAdjust="spacingAndGlyphs">−</text><text x="896.7" y="826.6" text-anchor="end" class="tk">0.6</text><text x="846.0" y="828.2" class="tk" textLength="18.8" lengthAdjust="spacingAndGlyphs">−</text><text x="896.7" y="864.9" text-anchor="end" class="tk">0.8</text><text x="846.0" y="866.5" class="tk" textLength="18.8" lengthAdjust="spacingAndGlyphs">−</text><text x="896.7" y="903.2" text-anchor="end" class="tk">1.0</text><text x="846.0" y="904.8" class="tk" textLength="18.8" lengthAdjust="spacingAndGlyphs">−</text><text x="909.1" y="922.0" text-anchor="middle" class="tk">0</text><text x="972.2" y="922.0" text-anchor="middle" class="tk">0.4</text><text x="1037.0" y="922.0" text-anchor="middle" class="tk">0.8</text><text x="1102.2" y="922.0" text-anchor="middle" class="tk">1.2</text><text x="1167.3" y="922.0" text-anchor="middle" class="tk">1.6</text></g>
<text x="804.6" y="519.8" class="lb">(<tspan class="it" dx="3">f</tspan><tspan dx="7">)</tspan></text>
<g><text x="1003.2" y="957.2" class="lb it">p</text><text x="1019.8" y="957.7" class="lb">′</text><text x="1019.1" y="961.9" class="sub">rms</text><text x="1051.0" y="963.4" class="sl">/</text><text x="1062.6" y="957.2" class="lb it">p</text><line x1="1065.0" y1="938.8" x2="1077.9" y2="938.8" class="bar"/><text x="1099.3" y="952.3" class="ex">(</text><text x="1107.4" y="956.1" class="tm">×</text><text x="1131.2" y="952.3" class="ex">10</text><text x="1156.8" y="942.9" class="sup2" textLength="11.2" lengthAdjust="spacingAndGlyphs">−</text><text x="1168.4" y="942.9" class="sup2">3</text><text x="1177.1" y="952.3" class="ex">)</text></g>
<text x="10.2" y="216.4" class="lb it">y</text>
<text x="24.5" y="222.4" class="sl">/</text>
<text x="37.6" y="216.4" class="lb it">h</text>
<text x="10.2" y="711.5" class="lb it">y</text>
<text x="24.5" y="717.5" class="sl">/</text>
<text x="37.6" y="711.5" class="lb it">h</text>
</svg>
</body></html>
